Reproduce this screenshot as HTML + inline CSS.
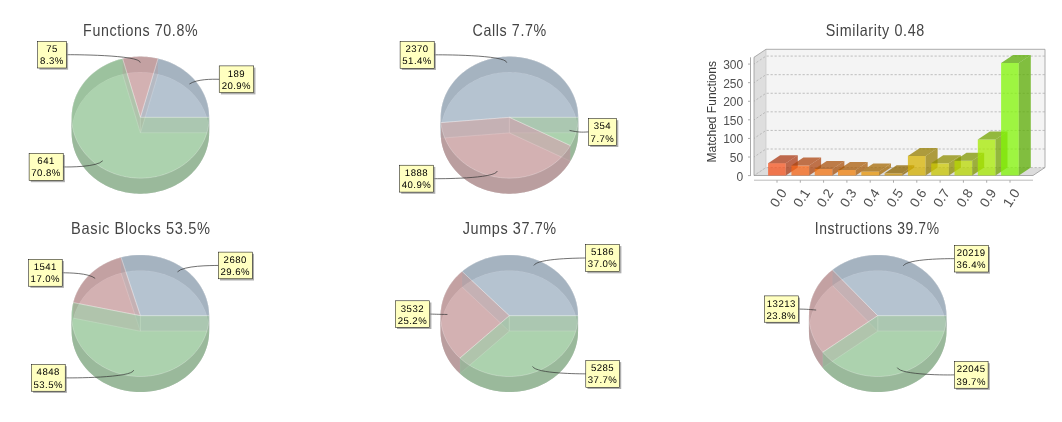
<!DOCTYPE html>
<html><head><meta charset="utf-8"><style>
html,body{margin:0;padding:0;background:#fff;width:1062px;height:422px;overflow:hidden}
svg{display:block;will-change:transform}
.tt{font-family:"Liberation Sans",sans-serif;font-size:16.5px;fill:#444;letter-spacing:0.7px}
.lb{font-family:"Liberation Sans",sans-serif;font-size:9.6px;fill:#000;letter-spacing:0.45px;text-rendering:geometricPrecision}
.ax{font-family:"Liberation Sans",sans-serif;font-size:12px;fill:#505050}
</style></head><body>
<svg width="1062" height="422" viewBox="0 0 1062 422">
<path d="M140.4 132.85 L209.15 132.85 L209.11 130.75 L208.99 128.65 L208.78 126.56 L208.5 124.48 L208.13 122.4 L207.68 120.34 L207.15 118.3 L206.54 116.27 L205.86 114.26 L205.09 112.27 L204.25 110.31 L203.33 108.37 L202.34 106.46 L201.27 104.59 L200.13 102.75 L198.92 100.94 L197.64 99.17 L196.29 97.45 L194.88 95.76 L193.4 94.12 L191.85 92.52 L190.25 90.98 L188.58 89.48 L186.86 88.04 L185.08 86.64 L183.25 85.31 L181.37 84.03 L179.44 82.8 L177.46 81.64 L175.44 80.54 L173.38 79.5 L171.28 78.53 L169.14 77.62 L166.97 76.77 L164.76 75.99 L162.53 75.29 L160.27 74.64 L157.98 74.07 Z" fill="rgb(158,175,193)" fill-opacity="0.5" stroke="#fff" stroke-opacity="0.4" stroke-width="0.6"/>
<path d="M140.4 132.85 L140.4 117.35 L209.15 117.35 L209.15 132.85 Z" fill="rgb(192,192,192)" fill-opacity="0.5" stroke="#fff" stroke-opacity="0.4" stroke-width="0.6"/>
<path d="M140.4 132.85 L157.98 74.07 L155.67 73.57 L153.33 73.13 L150.98 72.77 L148.61 72.49 L146.24 72.27 L143.86 72.13 L141.47 72.06 L139.09 72.06 L136.7 72.14 L134.32 72.29 L131.95 72.51 L129.59 72.81 L127.24 73.17 L124.9 73.61 L122.59 74.13 Z" fill="rgb(198,151,153)" fill-opacity="0.5" stroke="#fff" stroke-opacity="0.4" stroke-width="0.6"/>
<path d="M140.4 132.85 L140.4 117.35 L157.98 58.57 L157.98 74.07 Z" fill="rgb(192,192,192)" fill-opacity="0.5" stroke="#fff" stroke-opacity="0.4" stroke-width="0.6"/>
<path d="M140.4 132.85 L122.59 74.13 L120.29 74.71 L118.02 75.36 L115.77 76.09 L113.55 76.88 L111.37 77.74 L109.22 78.66 L107.11 79.65 L105.04 80.71 L103.01 81.83 L101.03 83.01 L99.09 84.25 L97.21 85.55 L95.37 86.9 L93.6 88.32 L91.87 89.78 L90.21 91.3 L88.61 92.87 L87.07 94.48 L85.59 96.15 L84.18 97.85 L82.84 99.6 L81.57 101.39 L80.37 103.22 L79.24 105.08 L78.18 106.98 L77.2 108.91 L76.3 110.87 L75.48 112.85 L74.73 114.86 L74.06 116.89 L73.47 118.94 L72.97 121 L72.54 123.08 L72.2 125.17 L71.94 127.27 L71.76 129.38 L71.67 131.49 L71.66 133.61 L71.73 135.72 L71.88 137.83 L72.12 139.93 L72.44 142.03 L72.84 144.11 L73.32 146.18 L73.89 148.24 L74.53 150.27 L75.26 152.29 L76.06 154.28 L76.94 156.24 L77.9 158.18 L78.93 160.08 L80.04 161.96 L81.22 163.8 L82.47 165.6 L83.8 167.36 L85.19 169.08 L86.64 170.75 L88.17 172.38 L89.75 173.96 L91.4 175.5 L93.1 176.98 L94.87 178.4 L96.68 179.78 L98.56 181.09 L100.48 182.35 L102.45 183.55 L104.46 184.68 L106.52 185.76 L108.62 186.76 L110.76 187.71 L112.93 188.59 L115.14 189.4 L117.38 190.14 L119.65 190.81 L121.94 191.42 L124.25 191.95 L126.58 192.41 L128.93 192.8 L131.29 193.11 L133.67 193.36 L136.05 193.53 L138.44 193.63 L140.83 193.65 L143.22 193.6 L145.6 193.48 L147.98 193.28 L150.35 193.01 L152.71 192.67 L155.06 192.25 L157.38 191.77 L159.69 191.21 L161.97 190.58 L164.23 189.88 L166.45 189.11 L168.65 188.28 L170.81 187.38 L172.94 186.41 L175.02 185.38 L177.07 184.28 L179.07 183.12 L181.02 181.9 L182.92 180.63 L184.77 179.29 L186.57 177.9 L188.32 176.45 L190 174.95 L191.62 173.4 L193.19 171.8 L194.69 170.16 L196.12 168.46 L197.49 166.73 L198.78 164.95 L200.01 163.14 L201.17 161.29 L202.25 159.4 L203.25 157.49 L204.18 155.54 L205.04 153.57 L205.81 151.57 L206.51 149.54 L207.12 147.5 L207.66 145.44 L208.11 143.37 L208.49 141.28 L208.78 139.18 L208.98 137.07 L209.11 134.96 L209.15 132.85 Z" fill="rgb(146,195,147)" fill-opacity="0.5" stroke="#fff" stroke-opacity="0.4" stroke-width="0.6"/>
<path d="M140.4 132.85 L140.4 117.35 L122.59 58.63 L122.59 74.13 Z" fill="rgb(192,192,192)" fill-opacity="0.5" stroke="#fff" stroke-opacity="0.4" stroke-width="0.6"/>
<path d="M209.15 117.35 L209.11 115.25 L208.99 113.16 L208.78 111.06 L208.5 108.98 L208.13 106.91 L207.68 104.85 L207.15 102.8 L206.54 100.77 L205.86 98.76 L205.09 96.77 L204.25 94.81 L203.33 92.88 L202.34 90.97 L201.28 89.09 L200.14 87.25 L198.93 85.45 L197.65 83.68 L196.3 81.95 L194.88 80.27 L193.4 78.63 L191.86 77.03 L190.26 75.49 L188.59 73.99 L186.87 72.54 L185.09 71.15 L183.26 69.81 L181.38 68.53 L179.45 67.31 L177.48 66.15 L175.46 65.05 L173.4 64.01 L171.29 63.03 L169.16 62.12 L166.98 61.28 L164.78 60.5 L162.55 59.79 L160.29 59.15 L158 58.58 L155.7 58.07 L153.38 57.64 L151.04 57.28 L148.69 56.99 L146.33 56.78 L143.96 56.63 L141.59 56.56 L139.21 56.56 L136.84 56.63 L134.47 56.78 L132.11 56.99 L129.76 57.28 L127.42 57.64 L125.1 58.07 L122.8 58.58 L120.51 59.15 L118.25 59.79 L116.02 60.5 L113.82 61.28 L111.64 62.12 L109.51 63.03 L107.4 64.01 L105.34 65.05 L103.32 66.15 L101.35 67.31 L99.42 68.53 L97.54 69.81 L95.71 71.15 L93.93 72.54 L92.21 73.99 L90.54 75.49 L88.94 77.03 L87.4 78.63 L85.92 80.27 L84.5 81.95 L83.15 83.68 L81.87 85.45 L80.66 87.25 L79.52 89.09 L78.46 90.97 L77.47 92.88 L76.55 94.81 L75.71 96.77 L74.94 98.76 L74.26 100.77 L73.65 102.8 L73.12 104.85 L72.67 106.91 L72.3 108.98 L72.02 111.06 L71.81 113.16 L71.69 115.25 L71.65 117.35 L71.65 132.85 L71.69 130.75 L71.81 128.66 L72.02 126.56 L72.3 124.48 L72.67 122.41 L73.12 120.35 L73.65 118.3 L74.26 116.27 L74.94 114.26 L75.71 112.27 L76.55 110.31 L77.47 108.38 L78.46 106.47 L79.52 104.59 L80.66 102.75 L81.87 100.95 L83.15 99.18 L84.5 97.45 L85.92 95.77 L87.4 94.13 L88.94 92.53 L90.54 90.99 L92.21 89.49 L93.93 88.04 L95.71 86.65 L97.54 85.31 L99.42 84.03 L101.35 82.81 L103.32 81.65 L105.34 80.55 L107.4 79.51 L109.51 78.53 L111.64 77.62 L113.82 76.78 L116.02 76 L118.25 75.29 L120.51 74.65 L122.8 74.08 L125.1 73.57 L127.42 73.14 L129.76 72.78 L132.11 72.49 L134.47 72.28 L136.84 72.13 L139.21 72.06 L141.59 72.06 L143.96 72.13 L146.33 72.28 L148.69 72.49 L151.04 72.78 L153.38 73.14 L155.7 73.57 L158 74.08 L160.29 74.65 L162.55 75.29 L164.78 76 L166.98 76.78 L169.16 77.62 L171.29 78.53 L173.4 79.51 L175.46 80.55 L177.48 81.65 L179.45 82.81 L181.38 84.03 L183.26 85.31 L185.09 86.65 L186.87 88.04 L188.59 89.49 L190.26 90.99 L191.86 92.53 L193.4 94.13 L194.88 95.77 L196.3 97.45 L197.65 99.18 L198.93 100.95 L200.14 102.75 L201.28 104.59 L202.34 106.47 L203.33 108.38 L204.25 110.31 L205.09 112.27 L205.86 114.26 L206.54 116.27 L207.15 118.3 L207.68 120.35 L208.13 122.41 L208.5 124.48 L208.78 126.56 L208.99 128.66 L209.11 130.75 L209.15 132.85 Z" fill="rgb(128,128,128)" fill-opacity="0.5"/>
<path d="M71.65 117.35 L71.69 119.45 L71.81 121.54 L72.02 123.64 L72.3 125.72 L72.67 127.79 L73.12 129.85 L73.65 131.9 L74.26 133.93 L74.94 135.94 L75.71 137.93 L76.55 139.89 L77.47 141.82 L78.46 143.73 L79.52 145.61 L80.66 147.45 L81.87 149.25 L83.15 151.02 L84.5 152.75 L85.92 154.43 L87.4 156.07 L88.94 157.67 L90.54 159.21 L92.21 160.71 L93.93 162.16 L95.71 163.55 L97.54 164.89 L99.42 166.17 L101.35 167.39 L103.32 168.55 L105.34 169.65 L107.4 170.69 L109.51 171.67 L111.64 172.58 L113.82 173.42 L116.02 174.2 L118.25 174.91 L120.51 175.55 L122.8 176.12 L125.1 176.63 L127.42 177.06 L129.76 177.42 L132.11 177.71 L134.47 177.92 L136.84 178.07 L139.21 178.14 L141.59 178.14 L143.96 178.07 L146.33 177.92 L148.69 177.71 L151.04 177.42 L153.38 177.06 L155.7 176.63 L158 176.12 L160.29 175.55 L162.55 174.91 L164.78 174.2 L166.98 173.42 L169.16 172.58 L171.29 171.67 L173.4 170.69 L175.46 169.65 L177.48 168.55 L179.45 167.39 L181.38 166.17 L183.26 164.89 L185.09 163.55 L186.87 162.16 L188.59 160.71 L190.26 159.21 L191.86 157.67 L193.4 156.07 L194.88 154.43 L196.3 152.75 L197.65 151.02 L198.93 149.25 L200.14 147.45 L201.28 145.61 L202.34 143.73 L203.33 141.82 L204.25 139.89 L205.09 137.93 L205.86 135.94 L206.54 133.93 L207.15 131.9 L207.68 129.85 L208.13 127.79 L208.5 125.72 L208.78 123.64 L208.99 121.54 L209.11 119.45 L209.15 117.35 L209.15 132.85 L209.11 134.95 L208.99 137.04 L208.78 139.14 L208.5 141.22 L208.13 143.29 L207.68 145.35 L207.15 147.4 L206.54 149.43 L205.86 151.44 L205.09 153.43 L204.25 155.39 L203.33 157.32 L202.34 159.23 L201.28 161.11 L200.14 162.95 L198.93 164.75 L197.65 166.52 L196.3 168.25 L194.88 169.93 L193.4 171.57 L191.86 173.17 L190.26 174.71 L188.59 176.21 L186.87 177.66 L185.09 179.05 L183.26 180.39 L181.38 181.67 L179.45 182.89 L177.48 184.05 L175.46 185.15 L173.4 186.19 L171.29 187.17 L169.16 188.08 L166.98 188.92 L164.78 189.7 L162.55 190.41 L160.29 191.05 L158 191.62 L155.7 192.13 L153.38 192.56 L151.04 192.92 L148.69 193.21 L146.33 193.42 L143.96 193.57 L141.59 193.64 L139.21 193.64 L136.84 193.57 L134.47 193.42 L132.11 193.21 L129.76 192.92 L127.42 192.56 L125.1 192.13 L122.8 191.62 L120.51 191.05 L118.25 190.41 L116.02 189.7 L113.82 188.92 L111.64 188.08 L109.51 187.17 L107.4 186.19 L105.34 185.15 L103.32 184.05 L101.35 182.89 L99.42 181.67 L97.54 180.39 L95.71 179.05 L93.93 177.66 L92.21 176.21 L90.54 174.71 L88.94 173.17 L87.4 171.57 L85.92 169.93 L84.5 168.25 L83.15 166.52 L81.87 164.75 L80.66 162.95 L79.52 161.11 L78.46 159.23 L77.47 157.32 L76.55 155.39 L75.71 153.43 L74.94 151.44 L74.26 149.43 L73.65 147.4 L73.12 145.35 L72.67 143.29 L72.3 141.22 L72.02 139.14 L71.81 137.04 L71.69 134.95 L71.65 132.85 Z" fill="rgb(128,128,128)" fill-opacity="0.5"/>
<path d="M209.15 117.35 L209.11 115.25 L208.99 113.15 L208.78 111.06 L208.5 108.98 L208.13 106.9 L207.68 104.84 L207.15 102.8 L206.54 100.77 L205.86 98.76 L205.09 96.77 L204.25 94.81 L203.33 92.87 L202.34 90.96 L201.27 89.09 L200.13 87.25 L198.92 85.44 L197.64 83.67 L196.29 81.95 L194.88 80.26 L193.4 78.62 L191.85 77.02 L190.25 75.48 L188.58 73.98 L186.86 72.54 L185.08 71.14 L183.25 69.81 L181.37 68.53 L179.44 67.3 L177.46 66.14 L175.44 65.04 L173.38 64 L171.28 63.03 L169.14 62.12 L166.97 61.27 L164.76 60.49 L162.53 59.79 L160.27 59.14 L157.98 58.57 L157.98 74.07 L160.27 74.64 L162.53 75.29 L164.76 75.99 L166.97 76.77 L169.14 77.62 L171.28 78.53 L173.38 79.5 L175.44 80.54 L177.46 81.64 L179.44 82.8 L181.37 84.03 L183.25 85.31 L185.08 86.64 L186.86 88.04 L188.58 89.48 L190.25 90.98 L191.85 92.52 L193.4 94.12 L194.88 95.76 L196.29 97.45 L197.64 99.17 L198.92 100.94 L200.13 102.75 L201.27 104.59 L202.34 106.46 L203.33 108.37 L204.25 110.31 L205.09 112.27 L205.86 114.26 L206.54 116.27 L207.15 118.3 L207.68 120.34 L208.13 122.4 L208.5 124.48 L208.78 126.56 L208.99 128.65 L209.11 130.75 L209.15 132.85 Z" fill="rgb(158,175,193)" fill-opacity="0.5"/>
<path d="M157.98 58.57 L155.67 58.07 L153.33 57.63 L150.98 57.27 L148.61 56.99 L146.24 56.77 L143.86 56.63 L141.47 56.56 L139.09 56.56 L136.7 56.64 L134.32 56.79 L131.95 57.01 L129.59 57.31 L127.24 57.67 L124.9 58.11 L122.59 58.63 L122.59 74.13 L124.9 73.61 L127.24 73.17 L129.59 72.81 L131.95 72.51 L134.32 72.29 L136.7 72.14 L139.09 72.06 L141.47 72.06 L143.86 72.13 L146.24 72.27 L148.61 72.49 L150.98 72.77 L153.33 73.13 L155.67 73.57 L157.98 74.07 Z" fill="rgb(198,151,153)" fill-opacity="0.5"/>
<path d="M122.59 58.63 L120.31 59.2 L118.06 59.85 L115.83 60.56 L113.64 61.35 L111.47 62.19 L109.34 63.11 L107.25 64.09 L105.19 65.13 L103.18 66.23 L101.21 67.39 L99.29 68.62 L97.42 69.9 L95.6 71.23 L93.83 72.63 L92.11 74.07 L90.46 75.57 L88.86 77.11 L87.32 78.71 L85.85 80.34 L84.44 82.03 L83.1 83.75 L81.83 85.52 L80.62 87.32 L79.49 89.16 L78.43 91.03 L77.44 92.93 L76.52 94.86 L75.69 96.82 L74.93 98.8 L74.24 100.81 L73.64 102.83 L73.11 104.88 L72.67 106.93 L72.3 109 L72.02 111.08 L71.81 113.17 L71.69 115.26 L71.65 117.35 L71.65 132.85 L71.69 130.76 L71.81 128.67 L72.02 126.58 L72.3 124.5 L72.67 122.43 L73.11 120.38 L73.64 118.33 L74.24 116.31 L74.93 114.3 L75.69 112.32 L76.52 110.36 L77.44 108.43 L78.43 106.53 L79.49 104.66 L80.62 102.82 L81.83 101.02 L83.1 99.25 L84.44 97.53 L85.85 95.84 L87.32 94.21 L88.86 92.61 L90.46 91.07 L92.11 89.57 L93.83 88.13 L95.6 86.73 L97.42 85.4 L99.29 84.12 L101.21 82.89 L103.18 81.73 L105.19 80.63 L107.25 79.59 L109.34 78.61 L111.47 77.69 L113.64 76.85 L115.83 76.06 L118.06 75.35 L120.31 74.7 L122.59 74.13 Z" fill="rgb(146,195,147)" fill-opacity="0.5"/>
<path d="M71.65 117.35 L71.69 119.45 L71.81 121.54 L72.02 123.64 L72.3 125.72 L72.67 127.79 L73.12 129.85 L73.65 131.9 L74.26 133.93 L74.94 135.94 L75.71 137.93 L76.55 139.89 L77.47 141.82 L78.46 143.73 L79.52 145.61 L80.66 147.45 L81.87 149.25 L83.15 151.02 L84.5 152.75 L85.92 154.43 L87.4 156.07 L88.94 157.67 L90.54 159.21 L92.21 160.71 L93.93 162.16 L95.71 163.55 L97.54 164.89 L99.42 166.17 L101.35 167.39 L103.32 168.55 L105.34 169.65 L107.4 170.69 L109.51 171.67 L111.64 172.58 L113.82 173.42 L116.02 174.2 L118.25 174.91 L120.51 175.55 L122.8 176.12 L125.1 176.63 L127.42 177.06 L129.76 177.42 L132.11 177.71 L134.47 177.92 L136.84 178.07 L139.21 178.14 L141.59 178.14 L143.96 178.07 L146.33 177.92 L148.69 177.71 L151.04 177.42 L153.38 177.06 L155.7 176.63 L158 176.12 L160.29 175.55 L162.55 174.91 L164.78 174.2 L166.98 173.42 L169.16 172.58 L171.29 171.67 L173.4 170.69 L175.46 169.65 L177.48 168.55 L179.45 167.39 L181.38 166.17 L183.26 164.89 L185.09 163.55 L186.87 162.16 L188.59 160.71 L190.26 159.21 L191.86 157.67 L193.4 156.07 L194.88 154.43 L196.3 152.75 L197.65 151.02 L198.93 149.25 L200.14 147.45 L201.28 145.61 L202.34 143.73 L203.33 141.82 L204.25 139.89 L205.09 137.93 L205.86 135.94 L206.54 133.93 L207.15 131.9 L207.68 129.85 L208.13 127.79 L208.5 125.72 L208.78 123.64 L208.99 121.54 L209.11 119.45 L209.15 117.35 L209.15 132.85 L209.11 134.95 L208.99 137.04 L208.78 139.14 L208.5 141.22 L208.13 143.29 L207.68 145.35 L207.15 147.4 L206.54 149.43 L205.86 151.44 L205.09 153.43 L204.25 155.39 L203.33 157.32 L202.34 159.23 L201.28 161.11 L200.14 162.95 L198.93 164.75 L197.65 166.52 L196.3 168.25 L194.88 169.93 L193.4 171.57 L191.86 173.17 L190.26 174.71 L188.59 176.21 L186.87 177.66 L185.09 179.05 L183.26 180.39 L181.38 181.67 L179.45 182.89 L177.48 184.05 L175.46 185.15 L173.4 186.19 L171.29 187.17 L169.16 188.08 L166.98 188.92 L164.78 189.7 L162.55 190.41 L160.29 191.05 L158 191.62 L155.7 192.13 L153.38 192.56 L151.04 192.92 L148.69 193.21 L146.33 193.42 L143.96 193.57 L141.59 193.64 L139.21 193.64 L136.84 193.57 L134.47 193.42 L132.11 193.21 L129.76 192.92 L127.42 192.56 L125.1 192.13 L122.8 191.62 L120.51 191.05 L118.25 190.41 L116.02 189.7 L113.82 188.92 L111.64 188.08 L109.51 187.17 L107.4 186.19 L105.34 185.15 L103.32 184.05 L101.35 182.89 L99.42 181.67 L97.54 180.39 L95.71 179.05 L93.93 177.66 L92.21 176.21 L90.54 174.71 L88.94 173.17 L87.4 171.57 L85.92 169.93 L84.5 168.25 L83.15 166.52 L81.87 164.75 L80.66 162.95 L79.52 161.11 L78.46 159.23 L77.47 157.32 L76.55 155.39 L75.71 153.43 L74.94 151.44 L74.26 149.43 L73.65 147.4 L73.12 145.35 L72.67 143.29 L72.3 141.22 L72.02 139.14 L71.81 137.04 L71.69 134.95 L71.65 132.85 Z" fill="rgb(146,195,147)" fill-opacity="0.5"/>
<path d="M140.4 117.35 L209.15 117.35 L209.11 115.25 L208.99 113.15 L208.78 111.06 L208.5 108.98 L208.13 106.9 L207.68 104.84 L207.15 102.8 L206.54 100.77 L205.86 98.76 L205.09 96.77 L204.25 94.81 L203.33 92.87 L202.34 90.96 L201.27 89.09 L200.13 87.25 L198.92 85.44 L197.64 83.67 L196.29 81.95 L194.88 80.26 L193.4 78.62 L191.85 77.02 L190.25 75.48 L188.58 73.98 L186.86 72.54 L185.08 71.14 L183.25 69.81 L181.37 68.53 L179.44 67.3 L177.46 66.14 L175.44 65.04 L173.38 64 L171.28 63.03 L169.14 62.12 L166.97 61.27 L164.76 60.49 L162.53 59.79 L160.27 59.14 L157.98 58.57 Z" fill="rgb(158,175,193)" fill-opacity="0.5" stroke="#fff" stroke-opacity="0.4" stroke-width="0.6"/>
<path d="M140.4 117.35 L157.98 58.57 L155.67 58.07 L153.33 57.63 L150.98 57.27 L148.61 56.99 L146.24 56.77 L143.86 56.63 L141.47 56.56 L139.09 56.56 L136.7 56.64 L134.32 56.79 L131.95 57.01 L129.59 57.31 L127.24 57.67 L124.9 58.11 L122.59 58.63 Z" fill="rgb(198,151,153)" fill-opacity="0.5" stroke="#fff" stroke-opacity="0.4" stroke-width="0.6"/>
<path d="M140.4 117.35 L122.59 58.63 L120.29 59.21 L118.02 59.86 L115.77 60.59 L113.55 61.38 L111.37 62.24 L109.22 63.16 L107.11 64.15 L105.04 65.21 L103.01 66.33 L101.03 67.51 L99.09 68.75 L97.21 70.05 L95.37 71.4 L93.6 72.82 L91.87 74.28 L90.21 75.8 L88.61 77.37 L87.07 78.98 L85.59 80.65 L84.18 82.35 L82.84 84.1 L81.57 85.89 L80.37 87.72 L79.24 89.58 L78.18 91.48 L77.2 93.41 L76.3 95.37 L75.48 97.35 L74.73 99.36 L74.06 101.39 L73.47 103.44 L72.97 105.5 L72.54 107.58 L72.2 109.67 L71.94 111.77 L71.76 113.88 L71.67 115.99 L71.66 118.11 L71.73 120.22 L71.88 122.33 L72.12 124.43 L72.44 126.53 L72.84 128.61 L73.32 130.68 L73.89 132.74 L74.53 134.77 L75.26 136.79 L76.06 138.78 L76.94 140.74 L77.9 142.68 L78.93 144.58 L80.04 146.46 L81.22 148.3 L82.47 150.1 L83.8 151.86 L85.19 153.58 L86.64 155.25 L88.17 156.88 L89.75 158.46 L91.4 160 L93.1 161.48 L94.87 162.9 L96.68 164.28 L98.56 165.59 L100.48 166.85 L102.45 168.05 L104.46 169.18 L106.52 170.26 L108.62 171.26 L110.76 172.21 L112.93 173.09 L115.14 173.9 L117.38 174.64 L119.65 175.31 L121.94 175.92 L124.25 176.45 L126.58 176.91 L128.93 177.3 L131.29 177.61 L133.67 177.86 L136.05 178.03 L138.44 178.13 L140.83 178.15 L143.22 178.1 L145.6 177.98 L147.98 177.78 L150.35 177.51 L152.71 177.17 L155.06 176.75 L157.38 176.27 L159.69 175.71 L161.97 175.08 L164.23 174.38 L166.45 173.61 L168.65 172.78 L170.81 171.88 L172.94 170.91 L175.02 169.88 L177.07 168.78 L179.07 167.62 L181.02 166.4 L182.92 165.13 L184.77 163.79 L186.57 162.4 L188.32 160.95 L190 159.45 L191.62 157.9 L193.19 156.3 L194.69 154.66 L196.12 152.96 L197.49 151.23 L198.78 149.45 L200.01 147.64 L201.17 145.79 L202.25 143.9 L203.25 141.99 L204.18 140.04 L205.04 138.07 L205.81 136.07 L206.51 134.04 L207.12 132 L207.66 129.94 L208.11 127.87 L208.49 125.78 L208.78 123.68 L208.98 121.57 L209.11 119.46 L209.15 117.35 Z" fill="rgb(146,195,147)" fill-opacity="0.5" stroke="#fff" stroke-opacity="0.4" stroke-width="0.6"/>
<path d="M219.2 79.3 C211.65 79.1 196.86 79.1 189.43 83.97" fill="none" stroke="#333" stroke-width="0.7"/>
<rect x="220.9" y="67.6" width="34.55" height="26.8" fill="rgb(140,140,140)" fill-opacity="0.7"/>
<rect x="219.2" y="65.9" width="34.55" height="26.8" fill="rgb(255,255,192)" stroke="#000" stroke-width="0.5"/>
<text x="236.38" y="76.6" text-anchor="middle" class="lb">189</text>
<text x="236.38" y="88.9" text-anchor="middle" class="lb">20.9%</text>
<path d="M66.4 54.7 C69.15 54.65 140.28 54.65 140.29 62.63" fill="none" stroke="#333" stroke-width="0.7"/>
<rect x="39.4" y="43.1" width="28.7" height="26.6" fill="rgb(140,140,140)" fill-opacity="0.7"/>
<rect x="37.7" y="41.4" width="28.7" height="26.6" fill="rgb(255,255,192)" stroke="#000" stroke-width="0.5"/>
<text x="51.95" y="52.1" text-anchor="middle" class="lb">75</text>
<text x="51.95" y="64.4" text-anchor="middle" class="lb">8.3%</text>
<path d="M63.2 166.9 C69.15 167.1 97.03 167.1 102.74 160.77" fill="none" stroke="#333" stroke-width="0.7"/>
<rect x="30.8" y="155" width="34.1" height="27.2" fill="rgb(140,140,140)" fill-opacity="0.7"/>
<rect x="29.1" y="153.3" width="34.1" height="27.2" fill="rgb(255,255,192)" stroke="#000" stroke-width="0.5"/>
<text x="46.05" y="164" text-anchor="middle" class="lb">641</text>
<text x="46.05" y="176.3" text-anchor="middle" class="lb">70.8%</text>
<path d="M509.45 132.85 L578.2 132.85 L578.16 130.74 L578.03 128.63 L577.83 126.53 L577.54 124.43 L577.17 122.35 L576.71 120.28 L576.18 118.22 L575.57 116.18 L574.87 114.16 L574.1 112.16 L573.25 110.19 L572.32 108.25 L571.32 106.33 L570.24 104.45 L569.09 102.6 L567.86 100.79 L566.57 99.01 L565.21 97.28 L563.78 95.59 L562.28 93.94 L560.72 92.35 L559.1 90.8 L557.42 89.3 L555.68 87.85 L553.89 86.46 L552.04 85.12 L550.14 83.84 L548.19 82.62 L546.2 81.47 L544.16 80.37 L542.08 79.33 L539.96 78.37 L537.8 77.46 L535.61 76.62 L533.39 75.86 L531.14 75.15 L528.86 74.52 L526.56 73.96 L524.24 73.47 L521.9 73.05 L519.54 72.71 L517.18 72.44 L514.8 72.23 L512.42 72.11 L510.03 72.05 L507.65 72.07 L505.26 72.16 L502.88 72.33 L500.51 72.57 L498.15 72.88 L495.8 73.26 L493.47 73.71 L491.16 74.24 L488.87 74.84 L486.61 75.5 L484.37 76.24 L482.16 77.04 L479.99 77.92 L477.85 78.85 L475.75 79.86 L473.69 80.92 L471.67 82.05 L469.7 83.24 L467.78 84.49 L465.91 85.8 L464.09 87.16 L462.32 88.58 L460.61 90.06 L458.96 91.58 L457.37 93.16 L455.85 94.78 L454.38 96.45 L452.99 98.16 L451.66 99.91 L450.4 101.71 L449.22 103.54 L448.1 105.41 L447.06 107.31 L446.1 109.24 L445.21 111.2 L444.4 113.18 L443.66 115.19 L443.01 117.22 L442.44 119.27 L441.94 121.33 L441.53 123.41 L441.2 125.5 L440.96 127.6 L440.79 129.71 L440.71 131.82 L440.71 133.93 L440.79 136.04 L440.96 138.14 Z" fill="rgb(158,175,193)" fill-opacity="0.5" stroke="#fff" stroke-opacity="0.4" stroke-width="0.6"/>
<path d="M509.45 132.85 L509.45 117.35 L578.2 117.35 L578.2 132.85 Z" fill="rgb(192,192,192)" fill-opacity="0.5" stroke="#fff" stroke-opacity="0.4" stroke-width="0.6"/>
<path d="M509.45 132.85 L440.96 138.14 L441.21 140.25 L441.54 142.34 L441.96 144.42 L442.45 146.49 L443.03 148.54 L443.68 150.57 L444.42 152.58 L445.24 154.57 L446.13 156.53 L447.1 158.46 L448.14 160.36 L449.26 162.23 L450.45 164.06 L451.71 165.85 L453.04 167.61 L454.44 169.32 L455.91 170.99 L457.44 172.61 L459.03 174.19 L460.69 175.71 L462.4 177.18 L464.17 178.6 L466 179.97 L467.88 181.27 L469.8 182.52 L471.78 183.71 L473.8 184.84 L475.87 185.9 L477.97 186.9 L480.11 187.84 L482.29 188.71 L484.5 189.51 L486.74 190.24 L489.01 190.9 L491.31 191.49 L493.62 192.02 L495.96 192.47 L498.31 192.85 L500.67 193.15 L503.05 193.39 L505.43 193.55 L507.82 193.63 L510.21 193.65 L512.6 193.59 L514.98 193.45 L517.36 193.25 L519.73 192.97 L522.08 192.61 L524.42 192.19 L526.75 191.69 L529.05 191.13 L531.33 190.49 L533.58 189.78 L535.8 189.01 L537.99 188.16 L540.15 187.25 L542.27 186.28 L544.35 185.24 L546.38 184.13 L548.38 182.96 L550.32 181.74 L552.22 180.45 L554.06 179.11 L555.85 177.71 L557.59 176.26 L559.27 174.75 L560.88 173.2 L562.44 171.59 L563.93 169.94 L565.35 168.24 L566.71 166.5 L568 164.72 L569.21 162.9 L570.36 161.05 Z" fill="rgb(198,151,153)" fill-opacity="0.5" stroke="#fff" stroke-opacity="0.4" stroke-width="0.6"/>
<path d="M509.45 132.85 L509.45 117.35 L440.96 122.64 L440.96 138.14 Z" fill="rgb(192,192,192)" fill-opacity="0.5" stroke="#fff" stroke-opacity="0.4" stroke-width="0.6"/>
<path d="M509.45 132.85 L570.36 161.05 L571.42 159.18 L572.41 157.27 L573.32 155.34 L574.16 153.38 L574.92 151.4 L575.61 149.39 L576.21 147.37 L576.74 145.33 L577.18 143.27 L577.55 141.2 L577.83 139.12 L578.04 137.04 L578.16 134.94 L578.2 132.85 Z" fill="rgb(146,195,147)" fill-opacity="0.5" stroke="#fff" stroke-opacity="0.4" stroke-width="0.6"/>
<path d="M509.45 132.85 L509.45 117.35 L570.36 145.55 L570.36 161.05 Z" fill="rgb(192,192,192)" fill-opacity="0.5" stroke="#fff" stroke-opacity="0.4" stroke-width="0.6"/>
<path d="M578.2 117.35 L578.16 115.25 L578.04 113.16 L577.83 111.06 L577.55 108.98 L577.18 106.91 L576.73 104.85 L576.2 102.8 L575.59 100.77 L574.91 98.76 L574.14 96.77 L573.3 94.81 L572.38 92.88 L571.39 90.97 L570.33 89.09 L569.19 87.25 L567.98 85.45 L566.7 83.68 L565.35 81.95 L563.93 80.27 L562.45 78.63 L560.91 77.03 L559.31 75.49 L557.64 73.99 L555.92 72.54 L554.14 71.15 L552.31 69.81 L550.43 68.53 L548.5 67.31 L546.53 66.15 L544.51 65.05 L542.45 64.01 L540.34 63.03 L538.21 62.12 L536.03 61.28 L533.83 60.5 L531.6 59.79 L529.34 59.15 L527.05 58.58 L524.75 58.07 L522.43 57.64 L520.09 57.28 L517.74 56.99 L515.38 56.78 L513.01 56.63 L510.64 56.56 L508.26 56.56 L505.89 56.63 L503.52 56.78 L501.16 56.99 L498.81 57.28 L496.47 57.64 L494.15 58.07 L491.85 58.58 L489.56 59.15 L487.3 59.79 L485.07 60.5 L482.87 61.28 L480.69 62.12 L478.56 63.03 L476.45 64.01 L474.39 65.05 L472.37 66.15 L470.4 67.31 L468.47 68.53 L466.59 69.81 L464.76 71.15 L462.98 72.54 L461.26 73.99 L459.59 75.49 L457.99 77.03 L456.45 78.63 L454.97 80.27 L453.55 81.95 L452.2 83.68 L450.92 85.45 L449.71 87.25 L448.57 89.09 L447.51 90.97 L446.52 92.88 L445.6 94.81 L444.76 96.77 L443.99 98.76 L443.31 100.77 L442.7 102.8 L442.17 104.85 L441.72 106.91 L441.35 108.98 L441.07 111.06 L440.86 113.16 L440.74 115.25 L440.7 117.35 L440.7 132.85 L440.74 130.75 L440.86 128.66 L441.07 126.56 L441.35 124.48 L441.72 122.41 L442.17 120.35 L442.7 118.3 L443.31 116.27 L443.99 114.26 L444.76 112.27 L445.6 110.31 L446.52 108.38 L447.51 106.47 L448.57 104.59 L449.71 102.75 L450.92 100.95 L452.2 99.18 L453.55 97.45 L454.97 95.77 L456.45 94.13 L457.99 92.53 L459.59 90.99 L461.26 89.49 L462.98 88.04 L464.76 86.65 L466.59 85.31 L468.47 84.03 L470.4 82.81 L472.37 81.65 L474.39 80.55 L476.45 79.51 L478.56 78.53 L480.69 77.62 L482.87 76.78 L485.07 76 L487.3 75.29 L489.56 74.65 L491.85 74.08 L494.15 73.57 L496.47 73.14 L498.81 72.78 L501.16 72.49 L503.52 72.28 L505.89 72.13 L508.26 72.06 L510.64 72.06 L513.01 72.13 L515.38 72.28 L517.74 72.49 L520.09 72.78 L522.43 73.14 L524.75 73.57 L527.05 74.08 L529.34 74.65 L531.6 75.29 L533.83 76 L536.03 76.78 L538.21 77.62 L540.34 78.53 L542.45 79.51 L544.51 80.55 L546.53 81.65 L548.5 82.81 L550.43 84.03 L552.31 85.31 L554.14 86.65 L555.92 88.04 L557.64 89.49 L559.31 90.99 L560.91 92.53 L562.45 94.13 L563.93 95.77 L565.35 97.45 L566.7 99.18 L567.98 100.95 L569.19 102.75 L570.33 104.59 L571.39 106.47 L572.38 108.38 L573.3 110.31 L574.14 112.27 L574.91 114.26 L575.59 116.27 L576.2 118.3 L576.73 120.35 L577.18 122.41 L577.55 124.48 L577.83 126.56 L578.04 128.66 L578.16 130.75 L578.2 132.85 Z" fill="rgb(128,128,128)" fill-opacity="0.5"/>
<path d="M440.7 117.35 L440.74 119.45 L440.86 121.54 L441.07 123.64 L441.35 125.72 L441.72 127.79 L442.17 129.85 L442.7 131.9 L443.31 133.93 L443.99 135.94 L444.76 137.93 L445.6 139.89 L446.52 141.82 L447.51 143.73 L448.57 145.61 L449.71 147.45 L450.92 149.25 L452.2 151.02 L453.55 152.75 L454.97 154.43 L456.45 156.07 L457.99 157.67 L459.59 159.21 L461.26 160.71 L462.98 162.16 L464.76 163.55 L466.59 164.89 L468.47 166.17 L470.4 167.39 L472.37 168.55 L474.39 169.65 L476.45 170.69 L478.56 171.67 L480.69 172.58 L482.87 173.42 L485.07 174.2 L487.3 174.91 L489.56 175.55 L491.85 176.12 L494.15 176.63 L496.47 177.06 L498.81 177.42 L501.16 177.71 L503.52 177.92 L505.89 178.07 L508.26 178.14 L510.64 178.14 L513.01 178.07 L515.38 177.92 L517.74 177.71 L520.09 177.42 L522.43 177.06 L524.75 176.63 L527.05 176.12 L529.34 175.55 L531.6 174.91 L533.83 174.2 L536.03 173.42 L538.21 172.58 L540.34 171.67 L542.45 170.69 L544.51 169.65 L546.53 168.55 L548.5 167.39 L550.43 166.17 L552.31 164.89 L554.14 163.55 L555.92 162.16 L557.64 160.71 L559.31 159.21 L560.91 157.67 L562.45 156.07 L563.93 154.43 L565.35 152.75 L566.7 151.02 L567.98 149.25 L569.19 147.45 L570.33 145.61 L571.39 143.73 L572.38 141.82 L573.3 139.89 L574.14 137.93 L574.91 135.94 L575.59 133.93 L576.2 131.9 L576.73 129.85 L577.18 127.79 L577.55 125.72 L577.83 123.64 L578.04 121.54 L578.16 119.45 L578.2 117.35 L578.2 132.85 L578.16 134.95 L578.04 137.04 L577.83 139.14 L577.55 141.22 L577.18 143.29 L576.73 145.35 L576.2 147.4 L575.59 149.43 L574.91 151.44 L574.14 153.43 L573.3 155.39 L572.38 157.32 L571.39 159.23 L570.33 161.11 L569.19 162.95 L567.98 164.75 L566.7 166.52 L565.35 168.25 L563.93 169.93 L562.45 171.57 L560.91 173.17 L559.31 174.71 L557.64 176.21 L555.92 177.66 L554.14 179.05 L552.31 180.39 L550.43 181.67 L548.5 182.89 L546.53 184.05 L544.51 185.15 L542.45 186.19 L540.34 187.17 L538.21 188.08 L536.03 188.92 L533.83 189.7 L531.6 190.41 L529.34 191.05 L527.05 191.62 L524.75 192.13 L522.43 192.56 L520.09 192.92 L517.74 193.21 L515.38 193.42 L513.01 193.57 L510.64 193.64 L508.26 193.64 L505.89 193.57 L503.52 193.42 L501.16 193.21 L498.81 192.92 L496.47 192.56 L494.15 192.13 L491.85 191.62 L489.56 191.05 L487.3 190.41 L485.07 189.7 L482.87 188.92 L480.69 188.08 L478.56 187.17 L476.45 186.19 L474.39 185.15 L472.37 184.05 L470.4 182.89 L468.47 181.67 L466.59 180.39 L464.76 179.05 L462.98 177.66 L461.26 176.21 L459.59 174.71 L457.99 173.17 L456.45 171.57 L454.97 169.93 L453.55 168.25 L452.2 166.52 L450.92 164.75 L449.71 162.95 L448.57 161.11 L447.51 159.23 L446.52 157.32 L445.6 155.39 L444.76 153.43 L443.99 151.44 L443.31 149.43 L442.7 147.4 L442.17 145.35 L441.72 143.29 L441.35 141.22 L441.07 139.14 L440.86 137.04 L440.74 134.95 L440.7 132.85 Z" fill="rgb(128,128,128)" fill-opacity="0.5"/>
<path d="M578.2 117.35 L578.16 115.25 L578.04 113.16 L577.83 111.06 L577.55 108.98 L577.18 106.91 L576.73 104.85 L576.2 102.8 L575.59 100.77 L574.91 98.76 L574.14 96.77 L573.3 94.81 L572.38 92.88 L571.39 90.97 L570.33 89.09 L569.19 87.25 L567.98 85.45 L566.7 83.68 L565.35 81.95 L563.93 80.27 L562.45 78.63 L560.91 77.03 L559.31 75.49 L557.64 73.99 L555.92 72.54 L554.14 71.15 L552.31 69.81 L550.43 68.53 L548.5 67.31 L546.53 66.15 L544.51 65.05 L542.45 64.01 L540.34 63.03 L538.21 62.12 L536.03 61.28 L533.83 60.5 L531.6 59.79 L529.34 59.15 L527.05 58.58 L524.75 58.07 L522.43 57.64 L520.09 57.28 L517.74 56.99 L515.38 56.78 L513.01 56.63 L510.64 56.56 L508.26 56.56 L505.89 56.63 L503.52 56.78 L501.16 56.99 L498.81 57.28 L496.47 57.64 L494.15 58.07 L491.85 58.58 L489.56 59.15 L487.3 59.79 L485.07 60.5 L482.87 61.28 L480.69 62.12 L478.56 63.03 L476.45 64.01 L474.39 65.05 L472.37 66.15 L470.4 67.31 L468.47 68.53 L466.59 69.81 L464.76 71.15 L462.98 72.54 L461.26 73.99 L459.59 75.49 L457.99 77.03 L456.45 78.63 L454.97 80.27 L453.55 81.95 L452.2 83.68 L450.92 85.45 L449.71 87.25 L448.57 89.09 L447.51 90.97 L446.52 92.88 L445.6 94.81 L444.76 96.77 L443.99 98.76 L443.31 100.77 L442.7 102.8 L442.17 104.85 L441.72 106.91 L441.35 108.98 L441.07 111.06 L440.86 113.16 L440.74 115.25 L440.7 117.35 L440.7 132.85 L440.74 130.75 L440.86 128.66 L441.07 126.56 L441.35 124.48 L441.72 122.41 L442.17 120.35 L442.7 118.3 L443.31 116.27 L443.99 114.26 L444.76 112.27 L445.6 110.31 L446.52 108.38 L447.51 106.47 L448.57 104.59 L449.71 102.75 L450.92 100.95 L452.2 99.18 L453.55 97.45 L454.97 95.77 L456.45 94.13 L457.99 92.53 L459.59 90.99 L461.26 89.49 L462.98 88.04 L464.76 86.65 L466.59 85.31 L468.47 84.03 L470.4 82.81 L472.37 81.65 L474.39 80.55 L476.45 79.51 L478.56 78.53 L480.69 77.62 L482.87 76.78 L485.07 76 L487.3 75.29 L489.56 74.65 L491.85 74.08 L494.15 73.57 L496.47 73.14 L498.81 72.78 L501.16 72.49 L503.52 72.28 L505.89 72.13 L508.26 72.06 L510.64 72.06 L513.01 72.13 L515.38 72.28 L517.74 72.49 L520.09 72.78 L522.43 73.14 L524.75 73.57 L527.05 74.08 L529.34 74.65 L531.6 75.29 L533.83 76 L536.03 76.78 L538.21 77.62 L540.34 78.53 L542.45 79.51 L544.51 80.55 L546.53 81.65 L548.5 82.81 L550.43 84.03 L552.31 85.31 L554.14 86.65 L555.92 88.04 L557.64 89.49 L559.31 90.99 L560.91 92.53 L562.45 94.13 L563.93 95.77 L565.35 97.45 L566.7 99.18 L567.98 100.95 L569.19 102.75 L570.33 104.59 L571.39 106.47 L572.38 108.38 L573.3 110.31 L574.14 112.27 L574.91 114.26 L575.59 116.27 L576.2 118.3 L576.73 120.35 L577.18 122.41 L577.55 124.48 L577.83 126.56 L578.04 128.66 L578.16 130.75 L578.2 132.85 Z" fill="rgb(158,175,193)" fill-opacity="0.5"/>
<path d="M440.7 117.35 L440.73 119.12 L440.82 120.88 L440.96 122.64 L440.96 138.14 L440.82 136.38 L440.73 134.62 L440.7 132.85 Z" fill="rgb(158,175,193)" fill-opacity="0.5"/>
<path d="M440.96 122.64 L441.21 124.75 L441.54 126.84 L441.96 128.92 L442.45 130.99 L443.03 133.04 L443.68 135.07 L444.42 137.08 L445.24 139.07 L446.13 141.03 L447.1 142.96 L448.14 144.86 L449.26 146.73 L450.45 148.56 L451.71 150.35 L453.04 152.11 L454.44 153.82 L455.91 155.49 L457.44 157.11 L459.03 158.69 L460.69 160.21 L462.4 161.68 L464.17 163.1 L466 164.47 L467.88 165.77 L469.8 167.02 L471.78 168.21 L473.8 169.34 L475.87 170.4 L477.97 171.4 L480.11 172.34 L482.29 173.21 L484.5 174.01 L486.74 174.74 L489.01 175.4 L491.31 175.99 L493.62 176.52 L495.96 176.97 L498.31 177.35 L500.67 177.65 L503.05 177.89 L505.43 178.05 L507.82 178.13 L510.21 178.15 L512.6 178.09 L514.98 177.95 L517.36 177.75 L519.73 177.47 L522.08 177.11 L524.42 176.69 L526.75 176.19 L529.05 175.63 L531.33 174.99 L533.58 174.28 L535.8 173.51 L537.99 172.66 L540.15 171.75 L542.27 170.78 L544.35 169.74 L546.38 168.63 L548.38 167.46 L550.32 166.24 L552.22 164.95 L554.06 163.61 L555.85 162.21 L557.59 160.76 L559.27 159.25 L560.88 157.7 L562.44 156.09 L563.93 154.44 L565.35 152.74 L566.71 151 L568 149.22 L569.21 147.4 L570.36 145.55 L570.36 161.05 L569.21 162.9 L568 164.72 L566.71 166.5 L565.35 168.24 L563.93 169.94 L562.44 171.59 L560.88 173.2 L559.27 174.75 L557.59 176.26 L555.85 177.71 L554.06 179.11 L552.22 180.45 L550.32 181.74 L548.38 182.96 L546.38 184.13 L544.35 185.24 L542.27 186.28 L540.15 187.25 L537.99 188.16 L535.8 189.01 L533.58 189.78 L531.33 190.49 L529.05 191.13 L526.75 191.69 L524.42 192.19 L522.08 192.61 L519.73 192.97 L517.36 193.25 L514.98 193.45 L512.6 193.59 L510.21 193.65 L507.82 193.63 L505.43 193.55 L503.05 193.39 L500.67 193.15 L498.31 192.85 L495.96 192.47 L493.62 192.02 L491.31 191.49 L489.01 190.9 L486.74 190.24 L484.5 189.51 L482.29 188.71 L480.11 187.84 L477.97 186.9 L475.87 185.9 L473.8 184.84 L471.78 183.71 L469.8 182.52 L467.88 181.27 L466 179.97 L464.17 178.6 L462.4 177.18 L460.69 175.71 L459.03 174.19 L457.44 172.61 L455.91 170.99 L454.44 169.32 L453.04 167.61 L451.71 165.85 L450.45 164.06 L449.26 162.23 L448.14 160.36 L447.1 158.46 L446.13 156.53 L445.24 154.57 L444.42 152.58 L443.68 150.57 L443.03 148.54 L442.45 146.49 L441.96 144.42 L441.54 142.34 L441.21 140.25 L440.96 138.14 Z" fill="rgb(198,151,153)" fill-opacity="0.5"/>
<path d="M570.36 145.55 L571.42 143.68 L572.41 141.77 L573.32 139.84 L574.16 137.88 L574.92 135.9 L575.61 133.89 L576.21 131.87 L576.74 129.83 L577.18 127.77 L577.55 125.7 L577.83 123.62 L578.04 121.54 L578.16 119.44 L578.2 117.35 L578.2 132.85 L578.16 134.94 L578.04 137.04 L577.83 139.12 L577.55 141.2 L577.18 143.27 L576.74 145.33 L576.21 147.37 L575.61 149.39 L574.92 151.4 L574.16 153.38 L573.32 155.34 L572.41 157.27 L571.42 159.18 L570.36 161.05 Z" fill="rgb(146,195,147)" fill-opacity="0.5"/>
<path d="M509.45 117.35 L578.2 117.35 L578.16 115.24 L578.03 113.13 L577.83 111.03 L577.54 108.93 L577.17 106.85 L576.71 104.78 L576.18 102.72 L575.57 100.68 L574.87 98.66 L574.1 96.66 L573.25 94.69 L572.32 92.75 L571.32 90.83 L570.24 88.95 L569.09 87.1 L567.86 85.29 L566.57 83.51 L565.21 81.78 L563.78 80.09 L562.28 78.44 L560.72 76.85 L559.1 75.3 L557.42 73.8 L555.68 72.35 L553.89 70.96 L552.04 69.62 L550.14 68.34 L548.19 67.12 L546.2 65.97 L544.16 64.87 L542.08 63.83 L539.96 62.87 L537.8 61.96 L535.61 61.12 L533.39 60.36 L531.14 59.65 L528.86 59.02 L526.56 58.46 L524.24 57.97 L521.9 57.55 L519.54 57.21 L517.18 56.94 L514.8 56.73 L512.42 56.61 L510.03 56.55 L507.65 56.57 L505.26 56.66 L502.88 56.83 L500.51 57.07 L498.15 57.38 L495.8 57.76 L493.47 58.21 L491.16 58.74 L488.87 59.34 L486.61 60 L484.37 60.74 L482.16 61.54 L479.99 62.42 L477.85 63.35 L475.75 64.36 L473.69 65.42 L471.67 66.55 L469.7 67.74 L467.78 68.99 L465.91 70.3 L464.09 71.66 L462.32 73.08 L460.61 74.56 L458.96 76.08 L457.37 77.66 L455.85 79.28 L454.38 80.95 L452.99 82.66 L451.66 84.41 L450.4 86.21 L449.22 88.04 L448.1 89.91 L447.06 91.81 L446.1 93.74 L445.21 95.7 L444.4 97.68 L443.66 99.69 L443.01 101.72 L442.44 103.77 L441.94 105.83 L441.53 107.91 L441.2 110 L440.96 112.1 L440.79 114.21 L440.71 116.32 L440.71 118.43 L440.79 120.54 L440.96 122.64 Z" fill="rgb(158,175,193)" fill-opacity="0.5" stroke="#fff" stroke-opacity="0.4" stroke-width="0.6"/>
<path d="M509.45 117.35 L440.96 122.64 L441.21 124.75 L441.54 126.84 L441.96 128.92 L442.45 130.99 L443.03 133.04 L443.68 135.07 L444.42 137.08 L445.24 139.07 L446.13 141.03 L447.1 142.96 L448.14 144.86 L449.26 146.73 L450.45 148.56 L451.71 150.35 L453.04 152.11 L454.44 153.82 L455.91 155.49 L457.44 157.11 L459.03 158.69 L460.69 160.21 L462.4 161.68 L464.17 163.1 L466 164.47 L467.88 165.77 L469.8 167.02 L471.78 168.21 L473.8 169.34 L475.87 170.4 L477.97 171.4 L480.11 172.34 L482.29 173.21 L484.5 174.01 L486.74 174.74 L489.01 175.4 L491.31 175.99 L493.62 176.52 L495.96 176.97 L498.31 177.35 L500.67 177.65 L503.05 177.89 L505.43 178.05 L507.82 178.13 L510.21 178.15 L512.6 178.09 L514.98 177.95 L517.36 177.75 L519.73 177.47 L522.08 177.11 L524.42 176.69 L526.75 176.19 L529.05 175.63 L531.33 174.99 L533.58 174.28 L535.8 173.51 L537.99 172.66 L540.15 171.75 L542.27 170.78 L544.35 169.74 L546.38 168.63 L548.38 167.46 L550.32 166.24 L552.22 164.95 L554.06 163.61 L555.85 162.21 L557.59 160.76 L559.27 159.25 L560.88 157.7 L562.44 156.09 L563.93 154.44 L565.35 152.74 L566.71 151 L568 149.22 L569.21 147.4 L570.36 145.55 Z" fill="rgb(198,151,153)" fill-opacity="0.5" stroke="#fff" stroke-opacity="0.4" stroke-width="0.6"/>
<path d="M509.45 117.35 L570.36 145.55 L571.42 143.68 L572.41 141.77 L573.32 139.84 L574.16 137.88 L574.92 135.9 L575.61 133.89 L576.21 131.87 L576.74 129.83 L577.18 127.77 L577.55 125.7 L577.83 123.62 L578.04 121.54 L578.16 119.44 L578.2 117.35 Z" fill="rgb(146,195,147)" fill-opacity="0.5" stroke="#fff" stroke-opacity="0.4" stroke-width="0.6"/>
<path d="M434.2 54.85 C438.2 54.71 506.34 54.71 506.75 62.68" fill="none" stroke="#333" stroke-width="0.7"/>
<rect x="401.8" y="43.1" width="34.1" height="26.9" fill="rgb(140,140,140)" fill-opacity="0.7"/>
<rect x="400.1" y="41.4" width="34.1" height="26.9" fill="rgb(255,255,192)" stroke="#000" stroke-width="0.5"/>
<text x="417.05" y="52.1" text-anchor="middle" class="lb">2370</text>
<text x="417.05" y="64.4" text-anchor="middle" class="lb">51.4%</text>
<path d="M433.6 178.65 C438.2 178.83 495.47 178.83 497.31 171.01" fill="none" stroke="#333" stroke-width="0.7"/>
<rect x="401.2" y="166.9" width="34.1" height="26.9" fill="rgb(140,140,140)" fill-opacity="0.7"/>
<rect x="399.5" y="165.2" width="34.1" height="26.9" fill="rgb(255,255,192)" stroke="#000" stroke-width="0.5"/>
<text x="416.45" y="175.9" text-anchor="middle" class="lb">1888</text>
<text x="416.45" y="188.2" text-anchor="middle" class="lb">40.9%</text>
<path d="M588.5 131.9 C580.7 132.32 578.64 132.32 569.53 130.42" fill="none" stroke="#333" stroke-width="0.7"/>
<rect x="590.2" y="120.2" width="28.1" height="26.8" fill="rgb(140,140,140)" fill-opacity="0.7"/>
<rect x="588.5" y="118.5" width="28.1" height="26.8" fill="rgb(255,255,192)" stroke="#000" stroke-width="0.5"/>
<text x="602.45" y="129.2" text-anchor="middle" class="lb">354</text>
<text x="602.45" y="141.5" text-anchor="middle" class="lb">7.7%</text>
<path d="M140.4 331.2 L209.15 331.2 L209.11 329.11 L208.99 327.02 L208.78 324.94 L208.5 322.86 L208.14 320.8 L207.69 318.75 L207.17 316.71 L206.57 314.69 L205.88 312.68 L205.13 310.7 L204.29 308.75 L203.38 306.82 L202.4 304.92 L201.34 303.05 L200.21 301.21 L199.01 299.41 L197.74 297.65 L196.4 295.93 L194.99 294.24 L193.52 292.61 L191.99 291.01 L190.4 289.47 L188.75 287.97 L187.04 286.53 L185.28 285.14 L183.46 283.8 L181.59 282.52 L179.67 281.3 L177.71 280.13 L175.7 279.03 L173.65 277.99 L171.57 277.01 L169.44 276.09 L167.28 275.24 L165.09 274.46 L162.87 273.74 L160.62 273.09 L158.35 272.51 L156.06 272 L153.75 271.56 L151.42 271.19 L149.08 270.89 L146.73 270.66 L144.38 270.5 L142.02 270.42 L139.65 270.4 L137.29 270.46 L134.93 270.59 L132.58 270.79 L130.23 271.07 L127.9 271.41 L125.59 271.83 L123.29 272.31 L121.01 272.87 Z" fill="rgb(158,175,193)" fill-opacity="0.5" stroke="#fff" stroke-opacity="0.4" stroke-width="0.6"/>
<path d="M140.4 331.2 L140.4 315.7 L209.15 315.7 L209.15 331.2 Z" fill="rgb(192,192,192)" fill-opacity="0.5" stroke="#fff" stroke-opacity="0.4" stroke-width="0.6"/>
<path d="M140.4 331.2 L121.01 272.87 L118.75 273.49 L116.51 274.19 L114.31 274.95 L112.13 275.78 L109.99 276.67 L107.89 277.63 L105.82 278.65 L103.79 279.73 L101.81 280.88 L99.88 282.08 L97.99 283.35 L96.15 284.67 L94.36 286.04 L92.63 287.47 L90.96 288.95 L89.34 290.48 L87.79 292.06 L86.3 293.69 L84.87 295.36 L83.5 297.07 L82.21 298.82 L80.98 300.61 L79.83 302.44 L78.74 304.3 L77.73 306.2 L76.8 308.12 L75.94 310.07 L75.15 312.04 L74.44 314.04 L73.82 316.06 L73.27 318.1 Z" fill="rgb(198,151,153)" fill-opacity="0.5" stroke="#fff" stroke-opacity="0.4" stroke-width="0.6"/>
<path d="M140.4 331.2 L140.4 315.7 L121.01 257.37 L121.01 272.87 Z" fill="rgb(192,192,192)" fill-opacity="0.5" stroke="#fff" stroke-opacity="0.4" stroke-width="0.6"/>
<path d="M140.4 331.2 L73.27 318.1 L72.79 320.16 L72.4 322.24 L72.09 324.32 L71.86 326.42 L71.72 328.52 L71.65 330.63 L71.67 332.73 L71.77 334.83 L71.96 336.93 L72.22 339.03 L72.57 341.11 L73 343.18 L73.51 345.24 L74.1 347.28 L74.77 349.3 L75.51 351.29 L76.34 353.27 L77.24 355.22 L78.22 357.14 L79.27 359.02 L80.4 360.88 L81.6 362.7 L82.86 364.48 L84.2 366.22 L85.61 367.92 L87.08 369.58 L88.61 371.19 L90.21 372.75 L91.86 374.26 L93.58 375.72 L95.35 377.13 L97.17 378.48 L99.05 379.77 L100.98 381.01 L102.95 382.19 L104.97 383.3 L107.03 384.36 L109.13 385.35 L111.27 386.27 L113.44 387.13 L115.65 387.92 L117.88 388.65 L120.15 389.3 L122.43 389.89 L124.74 390.4 L127.07 390.85 L129.41 391.22 L131.77 391.52 L134.13 391.75 L136.51 391.9 L138.89 391.99 L141.27 392 L143.65 391.93 L146.02 391.8 L148.39 391.59 L150.75 391.31 L153.1 390.95 L155.43 390.53 L157.74 390.03 L160.03 389.47 L162.3 388.83 L164.55 388.13 L166.76 387.35 L168.94 386.51 L171.09 385.61 L173.2 384.63 L175.27 383.6 L177.3 382.5 L179.29 381.34 L181.23 380.12 L183.12 378.84 L184.96 377.5 L186.74 376.11 L188.48 374.66 L190.15 373.17 L191.76 371.62 L193.31 370.02 L194.8 368.38 L196.22 366.69 L197.58 364.96 L198.87 363.19 L200.08 361.38 L201.23 359.53 L202.3 357.65 L203.3 355.74 L204.22 353.8 L205.07 351.83 L205.84 349.84 L206.53 347.83 L207.14 345.79 L207.67 343.74 L208.12 341.67 L208.49 339.59 L208.78 337.5 L208.99 335.41 L209.11 333.3 L209.15 331.2 Z" fill="rgb(146,195,147)" fill-opacity="0.5" stroke="#fff" stroke-opacity="0.4" stroke-width="0.6"/>
<path d="M140.4 331.2 L140.4 315.7 L73.27 302.6 L73.27 318.1 Z" fill="rgb(192,192,192)" fill-opacity="0.5" stroke="#fff" stroke-opacity="0.4" stroke-width="0.6"/>
<path d="M209.15 315.7 L209.11 313.6 L208.99 311.51 L208.78 309.41 L208.5 307.33 L208.13 305.26 L207.68 303.2 L207.15 301.15 L206.54 299.12 L205.86 297.11 L205.09 295.12 L204.25 293.16 L203.33 291.23 L202.34 289.32 L201.28 287.44 L200.14 285.6 L198.93 283.8 L197.65 282.03 L196.3 280.3 L194.88 278.62 L193.4 276.98 L191.86 275.38 L190.26 273.84 L188.59 272.34 L186.87 270.89 L185.09 269.5 L183.26 268.16 L181.38 266.88 L179.45 265.66 L177.48 264.5 L175.46 263.4 L173.4 262.36 L171.29 261.38 L169.16 260.47 L166.98 259.63 L164.78 258.85 L162.55 258.14 L160.29 257.5 L158 256.93 L155.7 256.42 L153.38 255.99 L151.04 255.63 L148.69 255.34 L146.33 255.13 L143.96 254.98 L141.59 254.91 L139.21 254.91 L136.84 254.98 L134.47 255.13 L132.11 255.34 L129.76 255.63 L127.42 255.99 L125.1 256.42 L122.8 256.93 L120.51 257.5 L118.25 258.14 L116.02 258.85 L113.82 259.63 L111.64 260.47 L109.51 261.38 L107.4 262.36 L105.34 263.4 L103.32 264.5 L101.35 265.66 L99.42 266.88 L97.54 268.16 L95.71 269.5 L93.93 270.89 L92.21 272.34 L90.54 273.84 L88.94 275.38 L87.4 276.98 L85.92 278.62 L84.5 280.3 L83.15 282.03 L81.87 283.8 L80.66 285.6 L79.52 287.44 L78.46 289.32 L77.47 291.23 L76.55 293.16 L75.71 295.12 L74.94 297.11 L74.26 299.12 L73.65 301.15 L73.12 303.2 L72.67 305.26 L72.3 307.33 L72.02 309.41 L71.81 311.51 L71.69 313.6 L71.65 315.7 L71.65 331.2 L71.69 329.1 L71.81 327.01 L72.02 324.91 L72.3 322.83 L72.67 320.76 L73.12 318.7 L73.65 316.65 L74.26 314.62 L74.94 312.61 L75.71 310.62 L76.55 308.66 L77.47 306.73 L78.46 304.82 L79.52 302.94 L80.66 301.1 L81.87 299.3 L83.15 297.53 L84.5 295.8 L85.92 294.12 L87.4 292.48 L88.94 290.88 L90.54 289.34 L92.21 287.84 L93.93 286.39 L95.71 285 L97.54 283.66 L99.42 282.38 L101.35 281.16 L103.32 280 L105.34 278.9 L107.4 277.86 L109.51 276.88 L111.64 275.97 L113.82 275.13 L116.02 274.35 L118.25 273.64 L120.51 273 L122.8 272.43 L125.1 271.92 L127.42 271.49 L129.76 271.13 L132.11 270.84 L134.47 270.63 L136.84 270.48 L139.21 270.41 L141.59 270.41 L143.96 270.48 L146.33 270.63 L148.69 270.84 L151.04 271.13 L153.38 271.49 L155.7 271.92 L158 272.43 L160.29 273 L162.55 273.64 L164.78 274.35 L166.98 275.13 L169.16 275.97 L171.29 276.88 L173.4 277.86 L175.46 278.9 L177.48 280 L179.45 281.16 L181.38 282.38 L183.26 283.66 L185.09 285 L186.87 286.39 L188.59 287.84 L190.26 289.34 L191.86 290.88 L193.4 292.48 L194.88 294.12 L196.3 295.8 L197.65 297.53 L198.93 299.3 L200.14 301.1 L201.28 302.94 L202.34 304.82 L203.33 306.73 L204.25 308.66 L205.09 310.62 L205.86 312.61 L206.54 314.62 L207.15 316.65 L207.68 318.7 L208.13 320.76 L208.5 322.83 L208.78 324.91 L208.99 327.01 L209.11 329.1 L209.15 331.2 Z" fill="rgb(128,128,128)" fill-opacity="0.5"/>
<path d="M71.65 315.7 L71.69 317.8 L71.81 319.89 L72.02 321.99 L72.3 324.07 L72.67 326.14 L73.12 328.2 L73.65 330.25 L74.26 332.28 L74.94 334.29 L75.71 336.28 L76.55 338.24 L77.47 340.17 L78.46 342.08 L79.52 343.96 L80.66 345.8 L81.87 347.6 L83.15 349.37 L84.5 351.1 L85.92 352.78 L87.4 354.42 L88.94 356.02 L90.54 357.56 L92.21 359.06 L93.93 360.51 L95.71 361.9 L97.54 363.24 L99.42 364.52 L101.35 365.74 L103.32 366.9 L105.34 368 L107.4 369.04 L109.51 370.02 L111.64 370.93 L113.82 371.77 L116.02 372.55 L118.25 373.26 L120.51 373.9 L122.8 374.47 L125.1 374.98 L127.42 375.41 L129.76 375.77 L132.11 376.06 L134.47 376.27 L136.84 376.42 L139.21 376.49 L141.59 376.49 L143.96 376.42 L146.33 376.27 L148.69 376.06 L151.04 375.77 L153.38 375.41 L155.7 374.98 L158 374.47 L160.29 373.9 L162.55 373.26 L164.78 372.55 L166.98 371.77 L169.16 370.93 L171.29 370.02 L173.4 369.04 L175.46 368 L177.48 366.9 L179.45 365.74 L181.38 364.52 L183.26 363.24 L185.09 361.9 L186.87 360.51 L188.59 359.06 L190.26 357.56 L191.86 356.02 L193.4 354.42 L194.88 352.78 L196.3 351.1 L197.65 349.37 L198.93 347.6 L200.14 345.8 L201.28 343.96 L202.34 342.08 L203.33 340.17 L204.25 338.24 L205.09 336.28 L205.86 334.29 L206.54 332.28 L207.15 330.25 L207.68 328.2 L208.13 326.14 L208.5 324.07 L208.78 321.99 L208.99 319.89 L209.11 317.8 L209.15 315.7 L209.15 331.2 L209.11 333.3 L208.99 335.39 L208.78 337.49 L208.5 339.57 L208.13 341.64 L207.68 343.7 L207.15 345.75 L206.54 347.78 L205.86 349.79 L205.09 351.78 L204.25 353.74 L203.33 355.67 L202.34 357.58 L201.28 359.46 L200.14 361.3 L198.93 363.1 L197.65 364.87 L196.3 366.6 L194.88 368.28 L193.4 369.92 L191.86 371.52 L190.26 373.06 L188.59 374.56 L186.87 376.01 L185.09 377.4 L183.26 378.74 L181.38 380.02 L179.45 381.24 L177.48 382.4 L175.46 383.5 L173.4 384.54 L171.29 385.52 L169.16 386.43 L166.98 387.27 L164.78 388.05 L162.55 388.76 L160.29 389.4 L158 389.97 L155.7 390.48 L153.38 390.91 L151.04 391.27 L148.69 391.56 L146.33 391.77 L143.96 391.92 L141.59 391.99 L139.21 391.99 L136.84 391.92 L134.47 391.77 L132.11 391.56 L129.76 391.27 L127.42 390.91 L125.1 390.48 L122.8 389.97 L120.51 389.4 L118.25 388.76 L116.02 388.05 L113.82 387.27 L111.64 386.43 L109.51 385.52 L107.4 384.54 L105.34 383.5 L103.32 382.4 L101.35 381.24 L99.42 380.02 L97.54 378.74 L95.71 377.4 L93.93 376.01 L92.21 374.56 L90.54 373.06 L88.94 371.52 L87.4 369.92 L85.92 368.28 L84.5 366.6 L83.15 364.87 L81.87 363.1 L80.66 361.3 L79.52 359.46 L78.46 357.58 L77.47 355.67 L76.55 353.74 L75.71 351.78 L74.94 349.79 L74.26 347.78 L73.65 345.75 L73.12 343.7 L72.67 341.64 L72.3 339.57 L72.02 337.49 L71.81 335.39 L71.69 333.3 L71.65 331.2 Z" fill="rgb(128,128,128)" fill-opacity="0.5"/>
<path d="M209.15 315.7 L209.11 313.61 L208.99 311.52 L208.78 309.44 L208.5 307.36 L208.14 305.3 L207.69 303.25 L207.17 301.21 L206.57 299.19 L205.88 297.18 L205.13 295.2 L204.29 293.25 L203.38 291.32 L202.4 289.42 L201.34 287.55 L200.21 285.71 L199.01 283.91 L197.74 282.15 L196.4 280.43 L194.99 278.74 L193.52 277.11 L191.99 275.51 L190.4 273.97 L188.75 272.47 L187.04 271.03 L185.28 269.64 L183.46 268.3 L181.59 267.02 L179.67 265.8 L177.71 264.63 L175.7 263.53 L173.65 262.49 L171.57 261.51 L169.44 260.59 L167.28 259.74 L165.09 258.96 L162.87 258.24 L160.62 257.59 L158.35 257.01 L156.06 256.5 L153.75 256.06 L151.42 255.69 L149.08 255.39 L146.73 255.16 L144.38 255 L142.02 254.92 L139.65 254.9 L137.29 254.96 L134.93 255.09 L132.58 255.29 L130.23 255.57 L127.9 255.91 L125.59 256.33 L123.29 256.81 L121.01 257.37 L121.01 272.87 L123.29 272.31 L125.59 271.83 L127.9 271.41 L130.23 271.07 L132.58 270.79 L134.93 270.59 L137.29 270.46 L139.65 270.4 L142.02 270.42 L144.38 270.5 L146.73 270.66 L149.08 270.89 L151.42 271.19 L153.75 271.56 L156.06 272 L158.35 272.51 L160.62 273.09 L162.87 273.74 L165.09 274.46 L167.28 275.24 L169.44 276.09 L171.57 277.01 L173.65 277.99 L175.7 279.03 L177.71 280.13 L179.67 281.3 L181.59 282.52 L183.46 283.8 L185.28 285.14 L187.04 286.53 L188.75 287.97 L190.4 289.47 L191.99 291.01 L193.52 292.61 L194.99 294.24 L196.4 295.93 L197.74 297.65 L199.01 299.41 L200.21 301.21 L201.34 303.05 L202.4 304.92 L203.38 306.82 L204.29 308.75 L205.13 310.7 L205.88 312.68 L206.57 314.69 L207.17 316.71 L207.69 318.75 L208.14 320.8 L208.5 322.86 L208.78 324.94 L208.99 327.02 L209.11 329.11 L209.15 331.2 Z" fill="rgb(158,175,193)" fill-opacity="0.5"/>
<path d="M121.01 257.37 L118.75 257.99 L116.51 258.69 L114.31 259.45 L112.13 260.28 L109.99 261.17 L107.89 262.13 L105.82 263.15 L103.79 264.23 L101.81 265.38 L99.88 266.58 L97.99 267.85 L96.15 269.17 L94.36 270.54 L92.63 271.97 L90.96 273.45 L89.34 274.98 L87.79 276.56 L86.3 278.19 L84.87 279.86 L83.5 281.57 L82.21 283.32 L80.98 285.11 L79.83 286.94 L78.74 288.8 L77.73 290.7 L76.8 292.62 L75.94 294.57 L75.15 296.54 L74.44 298.54 L73.82 300.56 L73.27 302.6 L73.27 318.1 L73.82 316.06 L74.44 314.04 L75.15 312.04 L75.94 310.07 L76.8 308.12 L77.73 306.2 L78.74 304.3 L79.83 302.44 L80.98 300.61 L82.21 298.82 L83.5 297.07 L84.87 295.36 L86.3 293.69 L87.79 292.06 L89.34 290.48 L90.96 288.95 L92.63 287.47 L94.36 286.04 L96.15 284.67 L97.99 283.35 L99.88 282.08 L101.81 280.88 L103.79 279.73 L105.82 278.65 L107.89 277.63 L109.99 276.67 L112.13 275.78 L114.31 274.95 L116.51 274.19 L118.75 273.49 L121.01 272.87 Z" fill="rgb(198,151,153)" fill-opacity="0.5"/>
<path d="M73.27 302.6 L72.84 304.45 L72.48 306.31 L72.18 308.17 L71.95 310.05 L71.78 311.93 L71.68 313.81 L71.65 315.7 L71.65 331.2 L71.68 329.31 L71.78 327.43 L71.95 325.55 L72.18 323.67 L72.48 321.81 L72.84 319.95 L73.27 318.1 Z" fill="rgb(146,195,147)" fill-opacity="0.5"/>
<path d="M71.65 315.7 L71.69 317.8 L71.81 319.89 L72.02 321.99 L72.3 324.07 L72.67 326.14 L73.12 328.2 L73.65 330.25 L74.26 332.28 L74.94 334.29 L75.71 336.28 L76.55 338.24 L77.47 340.17 L78.46 342.08 L79.52 343.96 L80.66 345.8 L81.87 347.6 L83.15 349.37 L84.5 351.1 L85.92 352.78 L87.4 354.42 L88.94 356.02 L90.54 357.56 L92.21 359.06 L93.93 360.51 L95.71 361.9 L97.54 363.24 L99.42 364.52 L101.35 365.74 L103.32 366.9 L105.34 368 L107.4 369.04 L109.51 370.02 L111.64 370.93 L113.82 371.77 L116.02 372.55 L118.25 373.26 L120.51 373.9 L122.8 374.47 L125.1 374.98 L127.42 375.41 L129.76 375.77 L132.11 376.06 L134.47 376.27 L136.84 376.42 L139.21 376.49 L141.59 376.49 L143.96 376.42 L146.33 376.27 L148.69 376.06 L151.04 375.77 L153.38 375.41 L155.7 374.98 L158 374.47 L160.29 373.9 L162.55 373.26 L164.78 372.55 L166.98 371.77 L169.16 370.93 L171.29 370.02 L173.4 369.04 L175.46 368 L177.48 366.9 L179.45 365.74 L181.38 364.52 L183.26 363.24 L185.09 361.9 L186.87 360.51 L188.59 359.06 L190.26 357.56 L191.86 356.02 L193.4 354.42 L194.88 352.78 L196.3 351.1 L197.65 349.37 L198.93 347.6 L200.14 345.8 L201.28 343.96 L202.34 342.08 L203.33 340.17 L204.25 338.24 L205.09 336.28 L205.86 334.29 L206.54 332.28 L207.15 330.25 L207.68 328.2 L208.13 326.14 L208.5 324.07 L208.78 321.99 L208.99 319.89 L209.11 317.8 L209.15 315.7 L209.15 331.2 L209.11 333.3 L208.99 335.39 L208.78 337.49 L208.5 339.57 L208.13 341.64 L207.68 343.7 L207.15 345.75 L206.54 347.78 L205.86 349.79 L205.09 351.78 L204.25 353.74 L203.33 355.67 L202.34 357.58 L201.28 359.46 L200.14 361.3 L198.93 363.1 L197.65 364.87 L196.3 366.6 L194.88 368.28 L193.4 369.92 L191.86 371.52 L190.26 373.06 L188.59 374.56 L186.87 376.01 L185.09 377.4 L183.26 378.74 L181.38 380.02 L179.45 381.24 L177.48 382.4 L175.46 383.5 L173.4 384.54 L171.29 385.52 L169.16 386.43 L166.98 387.27 L164.78 388.05 L162.55 388.76 L160.29 389.4 L158 389.97 L155.7 390.48 L153.38 390.91 L151.04 391.27 L148.69 391.56 L146.33 391.77 L143.96 391.92 L141.59 391.99 L139.21 391.99 L136.84 391.92 L134.47 391.77 L132.11 391.56 L129.76 391.27 L127.42 390.91 L125.1 390.48 L122.8 389.97 L120.51 389.4 L118.25 388.76 L116.02 388.05 L113.82 387.27 L111.64 386.43 L109.51 385.52 L107.4 384.54 L105.34 383.5 L103.32 382.4 L101.35 381.24 L99.42 380.02 L97.54 378.74 L95.71 377.4 L93.93 376.01 L92.21 374.56 L90.54 373.06 L88.94 371.52 L87.4 369.92 L85.92 368.28 L84.5 366.6 L83.15 364.87 L81.87 363.1 L80.66 361.3 L79.52 359.46 L78.46 357.58 L77.47 355.67 L76.55 353.74 L75.71 351.78 L74.94 349.79 L74.26 347.78 L73.65 345.75 L73.12 343.7 L72.67 341.64 L72.3 339.57 L72.02 337.49 L71.81 335.39 L71.69 333.3 L71.65 331.2 Z" fill="rgb(146,195,147)" fill-opacity="0.5"/>
<path d="M140.4 315.7 L209.15 315.7 L209.11 313.61 L208.99 311.52 L208.78 309.44 L208.5 307.36 L208.14 305.3 L207.69 303.25 L207.17 301.21 L206.57 299.19 L205.88 297.18 L205.13 295.2 L204.29 293.25 L203.38 291.32 L202.4 289.42 L201.34 287.55 L200.21 285.71 L199.01 283.91 L197.74 282.15 L196.4 280.43 L194.99 278.74 L193.52 277.11 L191.99 275.51 L190.4 273.97 L188.75 272.47 L187.04 271.03 L185.28 269.64 L183.46 268.3 L181.59 267.02 L179.67 265.8 L177.71 264.63 L175.7 263.53 L173.65 262.49 L171.57 261.51 L169.44 260.59 L167.28 259.74 L165.09 258.96 L162.87 258.24 L160.62 257.59 L158.35 257.01 L156.06 256.5 L153.75 256.06 L151.42 255.69 L149.08 255.39 L146.73 255.16 L144.38 255 L142.02 254.92 L139.65 254.9 L137.29 254.96 L134.93 255.09 L132.58 255.29 L130.23 255.57 L127.9 255.91 L125.59 256.33 L123.29 256.81 L121.01 257.37 Z" fill="rgb(158,175,193)" fill-opacity="0.5" stroke="#fff" stroke-opacity="0.4" stroke-width="0.6"/>
<path d="M140.4 315.7 L121.01 257.37 L118.75 257.99 L116.51 258.69 L114.31 259.45 L112.13 260.28 L109.99 261.17 L107.89 262.13 L105.82 263.15 L103.79 264.23 L101.81 265.38 L99.88 266.58 L97.99 267.85 L96.15 269.17 L94.36 270.54 L92.63 271.97 L90.96 273.45 L89.34 274.98 L87.79 276.56 L86.3 278.19 L84.87 279.86 L83.5 281.57 L82.21 283.32 L80.98 285.11 L79.83 286.94 L78.74 288.8 L77.73 290.7 L76.8 292.62 L75.94 294.57 L75.15 296.54 L74.44 298.54 L73.82 300.56 L73.27 302.6 Z" fill="rgb(198,151,153)" fill-opacity="0.5" stroke="#fff" stroke-opacity="0.4" stroke-width="0.6"/>
<path d="M140.4 315.7 L73.27 302.6 L72.79 304.66 L72.4 306.74 L72.09 308.82 L71.86 310.92 L71.72 313.02 L71.65 315.13 L71.67 317.23 L71.77 319.33 L71.96 321.43 L72.22 323.53 L72.57 325.61 L73 327.68 L73.51 329.74 L74.1 331.78 L74.77 333.8 L75.51 335.79 L76.34 337.77 L77.24 339.72 L78.22 341.64 L79.27 343.52 L80.4 345.38 L81.6 347.2 L82.86 348.98 L84.2 350.72 L85.61 352.42 L87.08 354.08 L88.61 355.69 L90.21 357.25 L91.86 358.76 L93.58 360.22 L95.35 361.63 L97.17 362.98 L99.05 364.27 L100.98 365.51 L102.95 366.69 L104.97 367.8 L107.03 368.86 L109.13 369.85 L111.27 370.77 L113.44 371.63 L115.65 372.42 L117.88 373.15 L120.15 373.8 L122.43 374.39 L124.74 374.9 L127.07 375.35 L129.41 375.72 L131.77 376.02 L134.13 376.25 L136.51 376.4 L138.89 376.49 L141.27 376.5 L143.65 376.43 L146.02 376.3 L148.39 376.09 L150.75 375.81 L153.1 375.45 L155.43 375.03 L157.74 374.53 L160.03 373.97 L162.3 373.33 L164.55 372.63 L166.76 371.85 L168.94 371.01 L171.09 370.11 L173.2 369.13 L175.27 368.1 L177.3 367 L179.29 365.84 L181.23 364.62 L183.12 363.34 L184.96 362 L186.74 360.61 L188.48 359.16 L190.15 357.67 L191.76 356.12 L193.31 354.52 L194.8 352.88 L196.22 351.19 L197.58 349.46 L198.87 347.69 L200.08 345.88 L201.23 344.03 L202.3 342.15 L203.3 340.24 L204.22 338.3 L205.07 336.33 L205.84 334.34 L206.53 332.33 L207.14 330.29 L207.67 328.24 L208.12 326.17 L208.49 324.09 L208.78 322 L208.99 319.91 L209.11 317.8 L209.15 315.7 Z" fill="rgb(146,195,147)" fill-opacity="0.5" stroke="#fff" stroke-opacity="0.4" stroke-width="0.6"/>
<path d="M218.3 265.45 C211.65 265.5 183.09 265.5 177.47 271.89" fill="none" stroke="#333" stroke-width="0.7"/>
<rect x="220" y="253.8" width="34" height="26.7" fill="rgb(140,140,140)" fill-opacity="0.7"/>
<rect x="218.3" y="252.1" width="34" height="26.7" fill="rgb(255,255,192)" stroke="#000" stroke-width="0.5"/>
<text x="235.2" y="262.8" text-anchor="middle" class="lb">2680</text>
<text x="235.2" y="275.1" text-anchor="middle" class="lb">29.6%</text>
<path d="M62.2 272.75 C69.15 272.91 88.32 272.91 95.17 278.36" fill="none" stroke="#333" stroke-width="0.7"/>
<rect x="30.4" y="261" width="33.5" height="26.9" fill="rgb(140,140,140)" fill-opacity="0.7"/>
<rect x="28.7" y="259.3" width="33.5" height="26.9" fill="rgb(255,255,192)" stroke="#000" stroke-width="0.5"/>
<text x="45.35" y="270" text-anchor="middle" class="lb">1541</text>
<text x="45.35" y="282.3" text-anchor="middle" class="lb">17.0%</text>
<path d="M65.2 377.85 C69.15 378.03 132.68 378.03 133.69 370.1" fill="none" stroke="#333" stroke-width="0.7"/>
<rect x="33.1" y="366.2" width="33.8" height="26.7" fill="rgb(140,140,140)" fill-opacity="0.7"/>
<rect x="31.4" y="364.5" width="33.8" height="26.7" fill="rgb(255,255,192)" stroke="#000" stroke-width="0.5"/>
<text x="48.2" y="375.2" text-anchor="middle" class="lb">4848</text>
<text x="48.2" y="387.5" text-anchor="middle" class="lb">53.5%</text>
<path d="M509.3 331.2 L578.05 331.2 L578.01 329.09 L577.88 326.98 L577.68 324.88 L577.39 322.78 L577.02 320.69 L576.56 318.62 L576.03 316.56 L575.41 314.52 L574.72 312.5 L573.95 310.51 L573.09 308.53 L572.17 306.59 L571.16 304.67 L570.08 302.79 L568.93 300.94 L567.71 299.13 L566.41 297.35 L565.05 295.62 L563.62 293.93 L562.12 292.28 L560.56 290.68 L558.94 289.13 L557.26 287.64 L555.52 286.19 L553.72 284.8 L551.87 283.46 L549.97 282.18 L548.02 280.96 L546.03 279.8 L543.99 278.71 L541.91 277.67 L539.78 276.7 L537.63 275.8 L535.43 274.96 L533.21 274.2 L530.96 273.5 L528.68 272.87 L526.38 272.31 L524.05 271.82 L521.71 271.4 L519.36 271.05 L516.99 270.78 L514.61 270.58 L512.23 270.46 L509.84 270.4 L507.46 270.42 L505.07 270.52 L502.69 270.68 L500.32 270.92 L497.96 271.23 L495.61 271.62 L493.28 272.07 L490.97 272.6 L488.68 273.2 L486.41 273.87 L484.17 274.61 L481.97 275.41 L479.79 276.28 L477.65 277.22 L475.55 278.23 L473.49 279.3 L471.48 280.43 L469.51 281.62 L467.58 282.87 L465.71 284.18 L463.89 285.55 L462.13 286.97 Z" fill="rgb(158,175,193)" fill-opacity="0.5" stroke="#fff" stroke-opacity="0.4" stroke-width="0.6"/>
<path d="M509.3 331.2 L509.3 315.7 L578.05 315.7 L578.05 331.2 Z" fill="rgb(192,192,192)" fill-opacity="0.5" stroke="#fff" stroke-opacity="0.4" stroke-width="0.6"/>
<path d="M509.3 331.2 L462.13 286.97 L460.43 288.43 L458.8 289.95 L457.22 291.51 L455.7 293.12 L454.25 294.78 L452.87 296.47 L451.55 298.21 L450.3 299.99 L449.12 301.81 L448.01 303.66 L446.97 305.54 L446.01 307.46 L445.12 309.4 L444.31 311.37 L443.58 313.36 L442.92 315.37 L442.34 317.4 L441.85 319.45 L441.43 321.51 L441.09 323.59 L440.84 325.67 L440.66 327.76 L440.57 329.85 L440.56 331.94 L440.62 334.04 L440.78 336.13 L441.01 338.21 L441.32 340.29 L441.72 342.35 L442.19 344.41 L442.75 346.44 L443.38 348.46 L444.09 350.46 L444.88 352.43 L445.74 354.38 L446.69 356.31 L447.7 358.2 L448.79 360.06 L449.95 361.89 L451.18 363.68 L452.48 365.43 L453.84 367.14 L455.28 368.81 L456.77 370.43 L458.33 372.01 L459.95 373.53 Z" fill="rgb(198,151,153)" fill-opacity="0.5" stroke="#fff" stroke-opacity="0.4" stroke-width="0.6"/>
<path d="M509.3 331.2 L509.3 315.7 L462.13 271.47 L462.13 286.97 Z" fill="rgb(192,192,192)" fill-opacity="0.5" stroke="#fff" stroke-opacity="0.4" stroke-width="0.6"/>
<path d="M509.3 331.2 L459.95 373.53 L461.65 375.03 L463.41 376.47 L465.22 377.86 L467.09 379.19 L469.01 380.46 L470.97 381.68 L472.99 382.83 L475.04 383.91 L477.14 384.94 L479.28 385.9 L481.46 386.79 L483.66 387.61 L485.9 388.37 L488.17 389.06 L490.47 389.67 L492.78 390.22 L495.12 390.69 L497.47 391.09 L499.84 391.42 L502.22 391.68 L504.61 391.86 L507.01 391.97 L509.4 392 L511.8 391.96 L514.19 391.85 L516.58 391.66 L518.96 391.4 L521.33 391.06 L523.68 390.65 L526.02 390.18 L528.33 389.62 L530.62 389 L532.89 388.31 L535.13 387.55 L537.33 386.72 L539.5 385.82 L541.64 384.85 L543.73 383.82 L545.79 382.73 L547.8 381.57 L549.76 380.36 L551.67 379.08 L553.54 377.74 L555.34 376.35 L557.1 374.9 L558.79 373.4 L560.42 371.85 L561.99 370.25 L563.5 368.6 L564.94 366.91 L566.32 365.17 L567.62 363.39 L568.86 361.57 L570.02 359.72 L571.11 357.83 L572.12 355.91 L573.05 353.96 L573.91 351.98 L574.69 349.97 L575.39 347.94 L576.01 345.9 L576.55 343.83 L577.01 341.75 L577.38 339.65 L577.67 337.55 L577.88 335.44 L578.01 333.32 L578.05 331.2 Z" fill="rgb(146,195,147)" fill-opacity="0.5" stroke="#fff" stroke-opacity="0.4" stroke-width="0.6"/>
<path d="M509.3 331.2 L509.3 315.7 L459.95 358.03 L459.95 373.53 Z" fill="rgb(192,192,192)" fill-opacity="0.5" stroke="#fff" stroke-opacity="0.4" stroke-width="0.6"/>
<path d="M578.05 315.7 L578.01 313.6 L577.89 311.51 L577.68 309.41 L577.4 307.33 L577.03 305.26 L576.58 303.2 L576.05 301.15 L575.44 299.12 L574.76 297.11 L573.99 295.12 L573.15 293.16 L572.23 291.23 L571.24 289.32 L570.18 287.44 L569.04 285.6 L567.83 283.8 L566.55 282.03 L565.2 280.3 L563.78 278.62 L562.3 276.98 L560.76 275.38 L559.16 273.84 L557.49 272.34 L555.77 270.89 L553.99 269.5 L552.16 268.16 L550.28 266.88 L548.35 265.66 L546.38 264.5 L544.36 263.4 L542.3 262.36 L540.19 261.38 L538.06 260.47 L535.88 259.63 L533.68 258.85 L531.45 258.14 L529.19 257.5 L526.9 256.93 L524.6 256.42 L522.28 255.99 L519.94 255.63 L517.59 255.34 L515.23 255.13 L512.86 254.98 L510.49 254.91 L508.11 254.91 L505.74 254.98 L503.37 255.13 L501.01 255.34 L498.66 255.63 L496.32 255.99 L494 256.42 L491.7 256.93 L489.41 257.5 L487.15 258.14 L484.92 258.85 L482.72 259.63 L480.54 260.47 L478.41 261.38 L476.3 262.36 L474.24 263.4 L472.22 264.5 L470.25 265.66 L468.32 266.88 L466.44 268.16 L464.61 269.5 L462.83 270.89 L461.11 272.34 L459.44 273.84 L457.84 275.38 L456.3 276.98 L454.82 278.62 L453.4 280.3 L452.05 282.03 L450.77 283.8 L449.56 285.6 L448.42 287.44 L447.36 289.32 L446.37 291.23 L445.45 293.16 L444.61 295.12 L443.84 297.11 L443.16 299.12 L442.55 301.15 L442.02 303.2 L441.57 305.26 L441.2 307.33 L440.92 309.41 L440.71 311.51 L440.59 313.6 L440.55 315.7 L440.55 331.2 L440.59 329.1 L440.71 327.01 L440.92 324.91 L441.2 322.83 L441.57 320.76 L442.02 318.7 L442.55 316.65 L443.16 314.62 L443.84 312.61 L444.61 310.62 L445.45 308.66 L446.37 306.73 L447.36 304.82 L448.42 302.94 L449.56 301.1 L450.77 299.3 L452.05 297.53 L453.4 295.8 L454.82 294.12 L456.3 292.48 L457.84 290.88 L459.44 289.34 L461.11 287.84 L462.83 286.39 L464.61 285 L466.44 283.66 L468.32 282.38 L470.25 281.16 L472.22 280 L474.24 278.9 L476.3 277.86 L478.41 276.88 L480.54 275.97 L482.72 275.13 L484.92 274.35 L487.15 273.64 L489.41 273 L491.7 272.43 L494 271.92 L496.32 271.49 L498.66 271.13 L501.01 270.84 L503.37 270.63 L505.74 270.48 L508.11 270.41 L510.49 270.41 L512.86 270.48 L515.23 270.63 L517.59 270.84 L519.94 271.13 L522.28 271.49 L524.6 271.92 L526.9 272.43 L529.19 273 L531.45 273.64 L533.68 274.35 L535.88 275.13 L538.06 275.97 L540.19 276.88 L542.3 277.86 L544.36 278.9 L546.38 280 L548.35 281.16 L550.28 282.38 L552.16 283.66 L553.99 285 L555.77 286.39 L557.49 287.84 L559.16 289.34 L560.76 290.88 L562.3 292.48 L563.78 294.12 L565.2 295.8 L566.55 297.53 L567.83 299.3 L569.04 301.1 L570.18 302.94 L571.24 304.82 L572.23 306.73 L573.15 308.66 L573.99 310.62 L574.76 312.61 L575.44 314.62 L576.05 316.65 L576.58 318.7 L577.03 320.76 L577.4 322.83 L577.68 324.91 L577.89 327.01 L578.01 329.1 L578.05 331.2 Z" fill="rgb(128,128,128)" fill-opacity="0.5"/>
<path d="M440.55 315.7 L440.59 317.8 L440.71 319.89 L440.92 321.99 L441.2 324.07 L441.57 326.14 L442.02 328.2 L442.55 330.25 L443.16 332.28 L443.84 334.29 L444.61 336.28 L445.45 338.24 L446.37 340.17 L447.36 342.08 L448.42 343.96 L449.56 345.8 L450.77 347.6 L452.05 349.37 L453.4 351.1 L454.82 352.78 L456.3 354.42 L457.84 356.02 L459.44 357.56 L461.11 359.06 L462.83 360.51 L464.61 361.9 L466.44 363.24 L468.32 364.52 L470.25 365.74 L472.22 366.9 L474.24 368 L476.3 369.04 L478.41 370.02 L480.54 370.93 L482.72 371.77 L484.92 372.55 L487.15 373.26 L489.41 373.9 L491.7 374.47 L494 374.98 L496.32 375.41 L498.66 375.77 L501.01 376.06 L503.37 376.27 L505.74 376.42 L508.11 376.49 L510.49 376.49 L512.86 376.42 L515.23 376.27 L517.59 376.06 L519.94 375.77 L522.28 375.41 L524.6 374.98 L526.9 374.47 L529.19 373.9 L531.45 373.26 L533.68 372.55 L535.88 371.77 L538.06 370.93 L540.19 370.02 L542.3 369.04 L544.36 368 L546.38 366.9 L548.35 365.74 L550.28 364.52 L552.16 363.24 L553.99 361.9 L555.77 360.51 L557.49 359.06 L559.16 357.56 L560.76 356.02 L562.3 354.42 L563.78 352.78 L565.2 351.1 L566.55 349.37 L567.83 347.6 L569.04 345.8 L570.18 343.96 L571.24 342.08 L572.23 340.17 L573.15 338.24 L573.99 336.28 L574.76 334.29 L575.44 332.28 L576.05 330.25 L576.58 328.2 L577.03 326.14 L577.4 324.07 L577.68 321.99 L577.89 319.89 L578.01 317.8 L578.05 315.7 L578.05 331.2 L578.01 333.3 L577.89 335.39 L577.68 337.49 L577.4 339.57 L577.03 341.64 L576.58 343.7 L576.05 345.75 L575.44 347.78 L574.76 349.79 L573.99 351.78 L573.15 353.74 L572.23 355.67 L571.24 357.58 L570.18 359.46 L569.04 361.3 L567.83 363.1 L566.55 364.87 L565.2 366.6 L563.78 368.28 L562.3 369.92 L560.76 371.52 L559.16 373.06 L557.49 374.56 L555.77 376.01 L553.99 377.4 L552.16 378.74 L550.28 380.02 L548.35 381.24 L546.38 382.4 L544.36 383.5 L542.3 384.54 L540.19 385.52 L538.06 386.43 L535.88 387.27 L533.68 388.05 L531.45 388.76 L529.19 389.4 L526.9 389.97 L524.6 390.48 L522.28 390.91 L519.94 391.27 L517.59 391.56 L515.23 391.77 L512.86 391.92 L510.49 391.99 L508.11 391.99 L505.74 391.92 L503.37 391.77 L501.01 391.56 L498.66 391.27 L496.32 390.91 L494 390.48 L491.7 389.97 L489.41 389.4 L487.15 388.76 L484.92 388.05 L482.72 387.27 L480.54 386.43 L478.41 385.52 L476.3 384.54 L474.24 383.5 L472.22 382.4 L470.25 381.24 L468.32 380.02 L466.44 378.74 L464.61 377.4 L462.83 376.01 L461.11 374.56 L459.44 373.06 L457.84 371.52 L456.3 369.92 L454.82 368.28 L453.4 366.6 L452.05 364.87 L450.77 363.1 L449.56 361.3 L448.42 359.46 L447.36 357.58 L446.37 355.67 L445.45 353.74 L444.61 351.78 L443.84 349.79 L443.16 347.78 L442.55 345.75 L442.02 343.7 L441.57 341.64 L441.2 339.57 L440.92 337.49 L440.71 335.39 L440.59 333.3 L440.55 331.2 Z" fill="rgb(128,128,128)" fill-opacity="0.5"/>
<path d="M578.05 315.7 L578.01 313.59 L577.88 311.48 L577.68 309.38 L577.39 307.28 L577.02 305.19 L576.56 303.12 L576.03 301.06 L575.41 299.02 L574.72 297 L573.95 295.01 L573.09 293.03 L572.17 291.09 L571.16 289.17 L570.08 287.29 L568.93 285.44 L567.71 283.63 L566.41 281.85 L565.05 280.12 L563.62 278.43 L562.12 276.78 L560.56 275.18 L558.94 273.63 L557.26 272.14 L555.52 270.69 L553.72 269.3 L551.87 267.96 L549.97 266.68 L548.02 265.46 L546.03 264.3 L543.99 263.21 L541.91 262.17 L539.78 261.2 L537.63 260.3 L535.43 259.46 L533.21 258.7 L530.96 258 L528.68 257.37 L526.38 256.81 L524.05 256.32 L521.71 255.9 L519.36 255.55 L516.99 255.28 L514.61 255.08 L512.23 254.96 L509.84 254.9 L507.46 254.92 L505.07 255.02 L502.69 255.18 L500.32 255.42 L497.96 255.73 L495.61 256.12 L493.28 256.57 L490.97 257.1 L488.68 257.7 L486.41 258.37 L484.17 259.11 L481.97 259.91 L479.79 260.78 L477.65 261.72 L475.55 262.73 L473.49 263.8 L471.48 264.93 L469.51 266.12 L467.58 267.37 L465.71 268.68 L463.89 270.05 L462.13 271.47 L462.13 286.97 L463.89 285.55 L465.71 284.18 L467.58 282.87 L469.51 281.62 L471.48 280.43 L473.49 279.3 L475.55 278.23 L477.65 277.22 L479.79 276.28 L481.97 275.41 L484.17 274.61 L486.41 273.87 L488.68 273.2 L490.97 272.6 L493.28 272.07 L495.61 271.62 L497.96 271.23 L500.32 270.92 L502.69 270.68 L505.07 270.52 L507.46 270.42 L509.84 270.4 L512.23 270.46 L514.61 270.58 L516.99 270.78 L519.36 271.05 L521.71 271.4 L524.05 271.82 L526.38 272.31 L528.68 272.87 L530.96 273.5 L533.21 274.2 L535.43 274.96 L537.63 275.8 L539.78 276.7 L541.91 277.67 L543.99 278.71 L546.03 279.8 L548.02 280.96 L549.97 282.18 L551.87 283.46 L553.72 284.8 L555.52 286.19 L557.26 287.64 L558.94 289.13 L560.56 290.68 L562.12 292.28 L563.62 293.93 L565.05 295.62 L566.41 297.35 L567.71 299.13 L568.93 300.94 L570.08 302.79 L571.16 304.67 L572.17 306.59 L573.09 308.53 L573.95 310.51 L574.72 312.5 L575.41 314.52 L576.03 316.56 L576.56 318.62 L577.02 320.69 L577.39 322.78 L577.68 324.88 L577.88 326.98 L578.01 329.09 L578.05 331.2 Z" fill="rgb(158,175,193)" fill-opacity="0.5"/>
<path d="M462.13 271.47 L460.46 272.91 L458.84 274.4 L457.29 275.94 L455.79 277.52 L454.36 279.15 L452.99 280.82 L451.68 282.53 L450.44 284.28 L449.27 286.06 L448.17 287.88 L447.14 289.73 L446.17 291.61 L445.29 293.52 L444.47 295.46 L443.73 297.41 L443.07 299.39 L442.48 301.39 L441.97 303.4 L441.54 305.43 L441.18 307.47 L440.91 309.52 L440.71 311.58 L440.59 313.64 L440.55 315.7 L440.55 331.2 L440.59 329.14 L440.71 327.08 L440.91 325.02 L441.18 322.97 L441.54 320.93 L441.97 318.9 L442.48 316.89 L443.07 314.89 L443.73 312.91 L444.47 310.96 L445.29 309.02 L446.17 307.11 L447.14 305.23 L448.17 303.38 L449.27 301.56 L450.44 299.78 L451.68 298.03 L452.99 296.32 L454.36 294.65 L455.79 293.02 L457.29 291.44 L458.84 289.9 L460.46 288.41 L462.13 286.97 Z" fill="rgb(198,151,153)" fill-opacity="0.5"/>
<path d="M440.55 315.7 L440.59 317.74 L440.7 319.77 L440.9 321.8 L441.17 323.82 L441.51 325.83 L441.93 327.83 L442.43 329.82 L443 331.79 L443.65 333.75 L444.37 335.68 L445.16 337.59 L446.03 339.48 L446.96 341.34 L447.97 343.17 L449.04 344.97 L450.18 346.74 L451.39 348.47 L452.67 350.17 L454 351.83 L455.4 353.44 L456.86 355.02 L458.38 356.55 L459.95 358.03 L459.95 373.53 L458.38 372.05 L456.86 370.52 L455.4 368.94 L454 367.33 L452.67 365.67 L451.39 363.97 L450.18 362.24 L449.04 360.47 L447.97 358.67 L446.96 356.84 L446.03 354.98 L445.16 353.09 L444.37 351.18 L443.65 349.25 L443 347.29 L442.43 345.32 L441.93 343.33 L441.51 341.33 L441.17 339.32 L440.9 337.3 L440.7 335.27 L440.59 333.24 L440.55 331.2 Z" fill="rgb(198,151,153)" fill-opacity="0.5"/>
<path d="M459.95 358.03 L461.65 359.53 L463.41 360.97 L465.22 362.36 L467.09 363.69 L469.01 364.96 L470.97 366.18 L472.99 367.33 L475.04 368.41 L477.14 369.44 L479.28 370.4 L481.46 371.29 L483.66 372.11 L485.9 372.87 L488.17 373.56 L490.47 374.17 L492.78 374.72 L495.12 375.19 L497.47 375.59 L499.84 375.92 L502.22 376.18 L504.61 376.36 L507.01 376.47 L509.4 376.5 L511.8 376.46 L514.19 376.35 L516.58 376.16 L518.96 375.9 L521.33 375.56 L523.68 375.15 L526.02 374.68 L528.33 374.12 L530.62 373.5 L532.89 372.81 L535.13 372.05 L537.33 371.22 L539.5 370.32 L541.64 369.35 L543.73 368.32 L545.79 367.23 L547.8 366.07 L549.76 364.86 L551.67 363.58 L553.54 362.24 L555.34 360.85 L557.1 359.4 L558.79 357.9 L560.42 356.35 L561.99 354.75 L563.5 353.1 L564.94 351.41 L566.32 349.67 L567.62 347.89 L568.86 346.07 L570.02 344.22 L571.11 342.33 L572.12 340.41 L573.05 338.46 L573.91 336.48 L574.69 334.47 L575.39 332.44 L576.01 330.4 L576.55 328.33 L577.01 326.25 L577.38 324.15 L577.67 322.05 L577.88 319.94 L578.01 317.82 L578.05 315.7 L578.05 331.2 L578.01 333.32 L577.88 335.44 L577.67 337.55 L577.38 339.65 L577.01 341.75 L576.55 343.83 L576.01 345.9 L575.39 347.94 L574.69 349.97 L573.91 351.98 L573.05 353.96 L572.12 355.91 L571.11 357.83 L570.02 359.72 L568.86 361.57 L567.62 363.39 L566.32 365.17 L564.94 366.91 L563.5 368.6 L561.99 370.25 L560.42 371.85 L558.79 373.4 L557.1 374.9 L555.34 376.35 L553.54 377.74 L551.67 379.08 L549.76 380.36 L547.8 381.57 L545.79 382.73 L543.73 383.82 L541.64 384.85 L539.5 385.82 L537.33 386.72 L535.13 387.55 L532.89 388.31 L530.62 389 L528.33 389.62 L526.02 390.18 L523.68 390.65 L521.33 391.06 L518.96 391.4 L516.58 391.66 L514.19 391.85 L511.8 391.96 L509.4 392 L507.01 391.97 L504.61 391.86 L502.22 391.68 L499.84 391.42 L497.47 391.09 L495.12 390.69 L492.78 390.22 L490.47 389.67 L488.17 389.06 L485.9 388.37 L483.66 387.61 L481.46 386.79 L479.28 385.9 L477.14 384.94 L475.04 383.91 L472.99 382.83 L470.97 381.68 L469.01 380.46 L467.09 379.19 L465.22 377.86 L463.41 376.47 L461.65 375.03 L459.95 373.53 Z" fill="rgb(146,195,147)" fill-opacity="0.5"/>
<path d="M509.3 315.7 L578.05 315.7 L578.01 313.59 L577.88 311.48 L577.68 309.38 L577.39 307.28 L577.02 305.19 L576.56 303.12 L576.03 301.06 L575.41 299.02 L574.72 297 L573.95 295.01 L573.09 293.03 L572.17 291.09 L571.16 289.17 L570.08 287.29 L568.93 285.44 L567.71 283.63 L566.41 281.85 L565.05 280.12 L563.62 278.43 L562.12 276.78 L560.56 275.18 L558.94 273.63 L557.26 272.14 L555.52 270.69 L553.72 269.3 L551.87 267.96 L549.97 266.68 L548.02 265.46 L546.03 264.3 L543.99 263.21 L541.91 262.17 L539.78 261.2 L537.63 260.3 L535.43 259.46 L533.21 258.7 L530.96 258 L528.68 257.37 L526.38 256.81 L524.05 256.32 L521.71 255.9 L519.36 255.55 L516.99 255.28 L514.61 255.08 L512.23 254.96 L509.84 254.9 L507.46 254.92 L505.07 255.02 L502.69 255.18 L500.32 255.42 L497.96 255.73 L495.61 256.12 L493.28 256.57 L490.97 257.1 L488.68 257.7 L486.41 258.37 L484.17 259.11 L481.97 259.91 L479.79 260.78 L477.65 261.72 L475.55 262.73 L473.49 263.8 L471.48 264.93 L469.51 266.12 L467.58 267.37 L465.71 268.68 L463.89 270.05 L462.13 271.47 Z" fill="rgb(158,175,193)" fill-opacity="0.5" stroke="#fff" stroke-opacity="0.4" stroke-width="0.6"/>
<path d="M509.3 315.7 L462.13 271.47 L460.43 272.93 L458.8 274.45 L457.22 276.01 L455.7 277.62 L454.25 279.28 L452.87 280.97 L451.55 282.71 L450.3 284.49 L449.12 286.31 L448.01 288.16 L446.97 290.04 L446.01 291.96 L445.12 293.9 L444.31 295.87 L443.58 297.86 L442.92 299.87 L442.34 301.9 L441.85 303.95 L441.43 306.01 L441.09 308.09 L440.84 310.17 L440.66 312.26 L440.57 314.35 L440.56 316.44 L440.62 318.54 L440.78 320.63 L441.01 322.71 L441.32 324.79 L441.72 326.85 L442.19 328.91 L442.75 330.94 L443.38 332.96 L444.09 334.96 L444.88 336.93 L445.74 338.88 L446.69 340.81 L447.7 342.7 L448.79 344.56 L449.95 346.39 L451.18 348.18 L452.48 349.93 L453.84 351.64 L455.28 353.31 L456.77 354.93 L458.33 356.51 L459.95 358.03 Z" fill="rgb(198,151,153)" fill-opacity="0.5" stroke="#fff" stroke-opacity="0.4" stroke-width="0.6"/>
<path d="M509.3 315.7 L459.95 358.03 L461.65 359.53 L463.41 360.97 L465.22 362.36 L467.09 363.69 L469.01 364.96 L470.97 366.18 L472.99 367.33 L475.04 368.41 L477.14 369.44 L479.28 370.4 L481.46 371.29 L483.66 372.11 L485.9 372.87 L488.17 373.56 L490.47 374.17 L492.78 374.72 L495.12 375.19 L497.47 375.59 L499.84 375.92 L502.22 376.18 L504.61 376.36 L507.01 376.47 L509.4 376.5 L511.8 376.46 L514.19 376.35 L516.58 376.16 L518.96 375.9 L521.33 375.56 L523.68 375.15 L526.02 374.68 L528.33 374.12 L530.62 373.5 L532.89 372.81 L535.13 372.05 L537.33 371.22 L539.5 370.32 L541.64 369.35 L543.73 368.32 L545.79 367.23 L547.8 366.07 L549.76 364.86 L551.67 363.58 L553.54 362.24 L555.34 360.85 L557.1 359.4 L558.79 357.9 L560.42 356.35 L561.99 354.75 L563.5 353.1 L564.94 351.41 L566.32 349.67 L567.62 347.89 L568.86 346.07 L570.02 344.22 L571.11 342.33 L572.12 340.41 L573.05 338.46 L573.91 336.48 L574.69 334.47 L575.39 332.44 L576.01 330.4 L576.55 328.33 L577.01 326.25 L577.38 324.15 L577.67 322.05 L577.88 319.94 L578.01 317.82 L578.05 315.7 Z" fill="rgb(146,195,147)" fill-opacity="0.5" stroke="#fff" stroke-opacity="0.4" stroke-width="0.6"/>
<path d="M585.7 258 C580.55 258.13 537.53 258.13 533.81 265.46" fill="none" stroke="#333" stroke-width="0.7"/>
<rect x="587.4" y="246.1" width="34" height="27.2" fill="rgb(140,140,140)" fill-opacity="0.7"/>
<rect x="585.7" y="244.4" width="34" height="27.2" fill="rgb(255,255,192)" stroke="#000" stroke-width="0.5"/>
<text x="602.6" y="255.1" text-anchor="middle" class="lb">5186</text>
<text x="602.6" y="267.4" text-anchor="middle" class="lb">37.0%</text>
<path d="M429.7 314.05 C438.05 314.31 438.07 314.31 447.44 314.48" fill="none" stroke="#333" stroke-width="0.7"/>
<rect x="397" y="302.5" width="34.4" height="26.5" fill="rgb(140,140,140)" fill-opacity="0.7"/>
<rect x="395.3" y="300.8" width="34.4" height="26.5" fill="rgb(255,255,192)" stroke="#000" stroke-width="0.5"/>
<text x="412.4" y="311.5" text-anchor="middle" class="lb">3532</text>
<text x="412.4" y="323.8" text-anchor="middle" class="lb">25.2%</text>
<path d="M585.8 373.85 C580.55 373.81 536.07 373.81 532.54 366.41" fill="none" stroke="#333" stroke-width="0.7"/>
<rect x="587.5" y="362.1" width="33.7" height="26.9" fill="rgb(140,140,140)" fill-opacity="0.7"/>
<rect x="585.8" y="360.4" width="33.7" height="26.9" fill="rgb(255,255,192)" stroke="#000" stroke-width="0.5"/>
<text x="602.55" y="371.1" text-anchor="middle" class="lb">5285</text>
<text x="602.55" y="383.4" text-anchor="middle" class="lb">37.7%</text>
<path d="M877.7 331.2 L946.45 331.2 L946.41 329.09 L946.28 326.98 L946.08 324.88 L945.79 322.79 L945.42 320.71 L944.97 318.63 L944.43 316.58 L943.82 314.54 L943.13 312.52 L942.35 310.53 L941.5 308.55 L940.58 306.61 L939.57 304.7 L938.5 302.81 L937.35 300.97 L936.13 299.15 L934.83 297.38 L933.47 295.65 L932.04 293.96 L930.55 292.31 L928.99 290.72 L927.38 289.17 L925.7 287.67 L923.96 286.22 L922.17 284.83 L920.32 283.49 L918.43 282.22 L916.48 281 L914.49 279.84 L912.45 278.74 L910.37 277.7 L908.25 276.73 L906.1 275.83 L903.91 274.99 L901.69 274.22 L899.44 273.52 L897.16 272.89 L894.86 272.33 L892.55 271.83 L890.21 271.41 L887.85 271.07 L885.49 270.79 L883.12 270.59 L880.74 270.46 L878.35 270.4 L875.97 270.42 L873.58 270.51 L871.2 270.67 L868.83 270.91 L866.47 271.22 L864.13 271.6 L861.8 272.05 L859.49 272.57 L857.2 273.17 L854.94 273.83 L852.7 274.56 L850.49 275.36 L848.32 276.23 L846.18 277.17 L844.08 278.17 L842.02 279.23 L840 280.36 L838.03 281.54 L836.11 282.79 L834.23 284.09 L832.41 285.46 Z" fill="rgb(158,175,193)" fill-opacity="0.5" stroke="#fff" stroke-opacity="0.4" stroke-width="0.6"/>
<path d="M877.7 331.2 L877.7 315.7 L946.45 315.7 L946.45 331.2 Z" fill="rgb(192,192,192)" fill-opacity="0.5" stroke="#fff" stroke-opacity="0.4" stroke-width="0.6"/>
<path d="M877.7 331.2 L832.41 285.46 L830.64 286.88 L828.92 288.35 L827.27 289.88 L825.67 291.46 L824.14 293.08 L822.67 294.75 L821.27 296.47 L819.94 298.23 L818.68 300.02 L817.49 301.86 L816.37 303.73 L815.32 305.63 L814.36 307.57 L813.46 309.53 L812.65 311.52 L811.92 313.53 L811.26 315.57 L810.69 317.62 L810.19 319.69 L809.78 321.78 L809.45 323.87 L809.2 325.98 L809.04 328.09 L808.96 330.2 L808.96 332.32 L809.05 334.43 L809.22 336.54 L809.47 338.65 L809.8 340.74 L810.22 342.83 L810.72 344.9 L811.3 346.95 L811.96 348.98 L812.7 350.99 L813.51 352.98 L814.41 354.94 L815.38 356.88 L816.43 358.78 L817.55 360.65 L818.75 362.48 L820.01 364.28 L821.35 366.03 L822.75 367.74 Z" fill="rgb(198,151,153)" fill-opacity="0.5" stroke="#fff" stroke-opacity="0.4" stroke-width="0.6"/>
<path d="M877.7 331.2 L877.7 315.7 L832.41 269.96 L832.41 285.46 Z" fill="rgb(192,192,192)" fill-opacity="0.5" stroke="#fff" stroke-opacity="0.4" stroke-width="0.6"/>
<path d="M877.7 331.2 L822.75 367.74 L824.22 369.41 L825.75 371.02 L827.34 372.59 L829 374.11 L830.71 375.58 L832.48 376.99 L834.3 378.35 L836.17 379.66 L838.1 380.9 L840.07 382.08 L842.09 383.21 L844.15 384.27 L846.25 385.26 L848.39 386.2 L850.56 387.06 L852.77 387.86 L855 388.59 L857.27 389.25 L859.55 389.84 L861.86 390.37 L864.19 390.82 L866.54 391.19 L868.9 391.5 L871.27 391.73 L873.64 391.89 L876.03 391.98 L878.41 392 L880.79 391.94 L883.17 391.81 L885.54 391.6 L887.91 391.33 L890.26 390.98 L892.59 390.56 L894.91 390.06 L897.21 389.5 L899.48 388.87 L901.73 388.16 L903.95 387.39 L906.14 386.55 L908.29 385.65 L910.41 384.68 L912.48 383.64 L914.52 382.55 L916.51 381.39 L918.45 380.17 L920.35 378.89 L922.19 377.55 L923.98 376.16 L925.72 374.71 L927.39 373.21 L929.01 371.67 L930.57 370.07 L932.06 368.42 L933.49 366.73 L934.85 365 L936.14 363.23 L937.36 361.42 L938.51 359.57 L939.58 357.69 L940.58 355.78 L941.51 353.83 L942.36 351.86 L943.13 349.87 L943.82 347.85 L944.43 345.81 L944.97 343.76 L945.42 341.69 L945.79 339.61 L946.08 337.51 L946.28 335.41 L946.41 333.31 L946.45 331.2 Z" fill="rgb(146,195,147)" fill-opacity="0.5" stroke="#fff" stroke-opacity="0.4" stroke-width="0.6"/>
<path d="M877.7 331.2 L877.7 315.7 L822.75 352.24 L822.75 367.74 Z" fill="rgb(192,192,192)" fill-opacity="0.5" stroke="#fff" stroke-opacity="0.4" stroke-width="0.6"/>
<path d="M946.45 315.7 L946.41 313.6 L946.29 311.51 L946.08 309.41 L945.8 307.33 L945.43 305.26 L944.98 303.2 L944.45 301.15 L943.84 299.12 L943.16 297.11 L942.39 295.12 L941.55 293.16 L940.63 291.23 L939.64 289.32 L938.58 287.44 L937.44 285.6 L936.23 283.8 L934.95 282.03 L933.6 280.3 L932.18 278.62 L930.7 276.98 L929.16 275.38 L927.56 273.84 L925.89 272.34 L924.17 270.89 L922.39 269.5 L920.56 268.16 L918.68 266.88 L916.75 265.66 L914.78 264.5 L912.76 263.4 L910.7 262.36 L908.59 261.38 L906.46 260.47 L904.28 259.63 L902.08 258.85 L899.85 258.14 L897.59 257.5 L895.3 256.93 L893 256.42 L890.68 255.99 L888.34 255.63 L885.99 255.34 L883.63 255.13 L881.26 254.98 L878.89 254.91 L876.51 254.91 L874.14 254.98 L871.77 255.13 L869.41 255.34 L867.06 255.63 L864.72 255.99 L862.4 256.42 L860.1 256.93 L857.81 257.5 L855.55 258.14 L853.32 258.85 L851.12 259.63 L848.94 260.47 L846.81 261.38 L844.7 262.36 L842.64 263.4 L840.62 264.5 L838.65 265.66 L836.72 266.88 L834.84 268.16 L833.01 269.5 L831.23 270.89 L829.51 272.34 L827.84 273.84 L826.24 275.38 L824.7 276.98 L823.22 278.62 L821.8 280.3 L820.45 282.03 L819.17 283.8 L817.96 285.6 L816.82 287.44 L815.76 289.32 L814.77 291.23 L813.85 293.16 L813.01 295.12 L812.24 297.11 L811.56 299.12 L810.95 301.15 L810.42 303.2 L809.97 305.26 L809.6 307.33 L809.32 309.41 L809.11 311.51 L808.99 313.6 L808.95 315.7 L808.95 331.2 L808.99 329.1 L809.11 327.01 L809.32 324.91 L809.6 322.83 L809.97 320.76 L810.42 318.7 L810.95 316.65 L811.56 314.62 L812.24 312.61 L813.01 310.62 L813.85 308.66 L814.77 306.73 L815.76 304.82 L816.82 302.94 L817.96 301.1 L819.17 299.3 L820.45 297.53 L821.8 295.8 L823.22 294.12 L824.7 292.48 L826.24 290.88 L827.84 289.34 L829.51 287.84 L831.23 286.39 L833.01 285 L834.84 283.66 L836.72 282.38 L838.65 281.16 L840.62 280 L842.64 278.9 L844.7 277.86 L846.81 276.88 L848.94 275.97 L851.12 275.13 L853.32 274.35 L855.55 273.64 L857.81 273 L860.1 272.43 L862.4 271.92 L864.72 271.49 L867.06 271.13 L869.41 270.84 L871.77 270.63 L874.14 270.48 L876.51 270.41 L878.89 270.41 L881.26 270.48 L883.63 270.63 L885.99 270.84 L888.34 271.13 L890.68 271.49 L893 271.92 L895.3 272.43 L897.59 273 L899.85 273.64 L902.08 274.35 L904.28 275.13 L906.46 275.97 L908.59 276.88 L910.7 277.86 L912.76 278.9 L914.78 280 L916.75 281.16 L918.68 282.38 L920.56 283.66 L922.39 285 L924.17 286.39 L925.89 287.84 L927.56 289.34 L929.16 290.88 L930.7 292.48 L932.18 294.12 L933.6 295.8 L934.95 297.53 L936.23 299.3 L937.44 301.1 L938.58 302.94 L939.64 304.82 L940.63 306.73 L941.55 308.66 L942.39 310.62 L943.16 312.61 L943.84 314.62 L944.45 316.65 L944.98 318.7 L945.43 320.76 L945.8 322.83 L946.08 324.91 L946.29 327.01 L946.41 329.1 L946.45 331.2 Z" fill="rgb(128,128,128)" fill-opacity="0.5"/>
<path d="M808.95 315.7 L808.99 317.8 L809.11 319.89 L809.32 321.99 L809.6 324.07 L809.97 326.14 L810.42 328.2 L810.95 330.25 L811.56 332.28 L812.24 334.29 L813.01 336.28 L813.85 338.24 L814.77 340.17 L815.76 342.08 L816.82 343.96 L817.96 345.8 L819.17 347.6 L820.45 349.37 L821.8 351.1 L823.22 352.78 L824.7 354.42 L826.24 356.02 L827.84 357.56 L829.51 359.06 L831.23 360.51 L833.01 361.9 L834.84 363.24 L836.72 364.52 L838.65 365.74 L840.62 366.9 L842.64 368 L844.7 369.04 L846.81 370.02 L848.94 370.93 L851.12 371.77 L853.32 372.55 L855.55 373.26 L857.81 373.9 L860.1 374.47 L862.4 374.98 L864.72 375.41 L867.06 375.77 L869.41 376.06 L871.77 376.27 L874.14 376.42 L876.51 376.49 L878.89 376.49 L881.26 376.42 L883.63 376.27 L885.99 376.06 L888.34 375.77 L890.68 375.41 L893 374.98 L895.3 374.47 L897.59 373.9 L899.85 373.26 L902.08 372.55 L904.28 371.77 L906.46 370.93 L908.59 370.02 L910.7 369.04 L912.76 368 L914.78 366.9 L916.75 365.74 L918.68 364.52 L920.56 363.24 L922.39 361.9 L924.17 360.51 L925.89 359.06 L927.56 357.56 L929.16 356.02 L930.7 354.42 L932.18 352.78 L933.6 351.1 L934.95 349.37 L936.23 347.6 L937.44 345.8 L938.58 343.96 L939.64 342.08 L940.63 340.17 L941.55 338.24 L942.39 336.28 L943.16 334.29 L943.84 332.28 L944.45 330.25 L944.98 328.2 L945.43 326.14 L945.8 324.07 L946.08 321.99 L946.29 319.89 L946.41 317.8 L946.45 315.7 L946.45 331.2 L946.41 333.3 L946.29 335.39 L946.08 337.49 L945.8 339.57 L945.43 341.64 L944.98 343.7 L944.45 345.75 L943.84 347.78 L943.16 349.79 L942.39 351.78 L941.55 353.74 L940.63 355.67 L939.64 357.58 L938.58 359.46 L937.44 361.3 L936.23 363.1 L934.95 364.87 L933.6 366.6 L932.18 368.28 L930.7 369.92 L929.16 371.52 L927.56 373.06 L925.89 374.56 L924.17 376.01 L922.39 377.4 L920.56 378.74 L918.68 380.02 L916.75 381.24 L914.78 382.4 L912.76 383.5 L910.7 384.54 L908.59 385.52 L906.46 386.43 L904.28 387.27 L902.08 388.05 L899.85 388.76 L897.59 389.4 L895.3 389.97 L893 390.48 L890.68 390.91 L888.34 391.27 L885.99 391.56 L883.63 391.77 L881.26 391.92 L878.89 391.99 L876.51 391.99 L874.14 391.92 L871.77 391.77 L869.41 391.56 L867.06 391.27 L864.72 390.91 L862.4 390.48 L860.1 389.97 L857.81 389.4 L855.55 388.76 L853.32 388.05 L851.12 387.27 L848.94 386.43 L846.81 385.52 L844.7 384.54 L842.64 383.5 L840.62 382.4 L838.65 381.24 L836.72 380.02 L834.84 378.74 L833.01 377.4 L831.23 376.01 L829.51 374.56 L827.84 373.06 L826.24 371.52 L824.7 369.92 L823.22 368.28 L821.8 366.6 L820.45 364.87 L819.17 363.1 L817.96 361.3 L816.82 359.46 L815.76 357.58 L814.77 355.67 L813.85 353.74 L813.01 351.78 L812.24 349.79 L811.56 347.78 L810.95 345.75 L810.42 343.7 L809.97 341.64 L809.6 339.57 L809.32 337.49 L809.11 335.39 L808.99 333.3 L808.95 331.2 Z" fill="rgb(128,128,128)" fill-opacity="0.5"/>
<path d="M946.45 315.7 L946.41 313.59 L946.28 311.48 L946.08 309.38 L945.79 307.29 L945.42 305.21 L944.97 303.13 L944.43 301.08 L943.82 299.04 L943.13 297.02 L942.35 295.03 L941.5 293.05 L940.58 291.11 L939.57 289.2 L938.5 287.31 L937.35 285.47 L936.13 283.65 L934.83 281.88 L933.47 280.15 L932.04 278.46 L930.55 276.81 L928.99 275.22 L927.38 273.67 L925.7 272.17 L923.96 270.72 L922.17 269.33 L920.32 267.99 L918.43 266.72 L916.48 265.5 L914.49 264.34 L912.45 263.24 L910.37 262.2 L908.25 261.23 L906.1 260.33 L903.91 259.49 L901.69 258.72 L899.44 258.02 L897.16 257.39 L894.86 256.83 L892.55 256.33 L890.21 255.91 L887.85 255.57 L885.49 255.29 L883.12 255.09 L880.74 254.96 L878.35 254.9 L875.97 254.92 L873.58 255.01 L871.2 255.17 L868.83 255.41 L866.47 255.72 L864.13 256.1 L861.8 256.55 L859.49 257.07 L857.2 257.67 L854.94 258.33 L852.7 259.06 L850.49 259.86 L848.32 260.73 L846.18 261.67 L844.08 262.67 L842.02 263.73 L840 264.86 L838.03 266.04 L836.11 267.29 L834.23 268.59 L832.41 269.96 L832.41 285.46 L834.23 284.09 L836.11 282.79 L838.03 281.54 L840 280.36 L842.02 279.23 L844.08 278.17 L846.18 277.17 L848.32 276.23 L850.49 275.36 L852.7 274.56 L854.94 273.83 L857.2 273.17 L859.49 272.57 L861.8 272.05 L864.13 271.6 L866.47 271.22 L868.83 270.91 L871.2 270.67 L873.58 270.51 L875.97 270.42 L878.35 270.4 L880.74 270.46 L883.12 270.59 L885.49 270.79 L887.85 271.07 L890.21 271.41 L892.55 271.83 L894.86 272.33 L897.16 272.89 L899.44 273.52 L901.69 274.22 L903.91 274.99 L906.1 275.83 L908.25 276.73 L910.37 277.7 L912.45 278.74 L914.49 279.84 L916.48 281 L918.43 282.22 L920.32 283.49 L922.17 284.83 L923.96 286.22 L925.7 287.67 L927.38 289.17 L928.99 290.72 L930.55 292.31 L932.04 293.96 L933.47 295.65 L934.83 297.38 L936.13 299.15 L937.35 300.97 L938.5 302.81 L939.57 304.7 L940.58 306.61 L941.5 308.55 L942.35 310.53 L943.13 312.52 L943.82 314.54 L944.43 316.58 L944.97 318.63 L945.42 320.71 L945.79 322.79 L946.08 324.88 L946.28 326.98 L946.41 329.09 L946.45 331.2 Z" fill="rgb(158,175,193)" fill-opacity="0.5"/>
<path d="M832.41 269.96 L830.68 271.35 L828.99 272.79 L827.37 274.28 L825.8 275.82 L824.3 277.41 L822.85 279.04 L821.47 280.71 L820.16 282.43 L818.91 284.18 L817.73 285.97 L816.62 287.79 L815.58 289.65 L814.61 291.53 L813.72 293.45 L812.9 295.39 L812.16 297.35 L811.49 299.33 L810.9 301.34 L810.38 303.36 L809.94 305.39 L809.59 307.44 L809.31 309.5 L809.11 311.56 L808.99 313.63 L808.95 315.7 L808.95 331.2 L808.99 329.13 L809.11 327.06 L809.31 325 L809.59 322.94 L809.94 320.89 L810.38 318.86 L810.9 316.84 L811.49 314.83 L812.16 312.85 L812.9 310.89 L813.72 308.95 L814.61 307.03 L815.58 305.15 L816.62 303.29 L817.73 301.47 L818.91 299.68 L820.16 297.93 L821.47 296.21 L822.85 294.54 L824.3 292.91 L825.8 291.32 L827.37 289.78 L828.99 288.29 L830.68 286.85 L832.41 285.46 Z" fill="rgb(198,151,153)" fill-opacity="0.5"/>
<path d="M808.95 315.7 L808.99 317.76 L809.11 319.82 L809.31 321.88 L809.58 323.93 L809.94 325.97 L810.37 328 L810.88 330.01 L811.47 332.01 L812.13 333.98 L812.87 335.94 L813.69 337.87 L814.57 339.78 L815.53 341.66 L816.57 343.51 L817.67 345.33 L818.84 347.12 L820.08 348.86 L821.38 350.57 L822.75 352.24 L822.75 367.74 L821.38 366.07 L820.08 364.36 L818.84 362.62 L817.67 360.83 L816.57 359.01 L815.53 357.16 L814.57 355.28 L813.69 353.37 L812.87 351.44 L812.13 349.48 L811.47 347.51 L810.88 345.51 L810.37 343.5 L809.94 341.47 L809.58 339.43 L809.31 337.38 L809.11 335.32 L808.99 333.26 L808.95 331.2 Z" fill="rgb(198,151,153)" fill-opacity="0.5"/>
<path d="M822.75 352.24 L824.22 353.91 L825.75 355.52 L827.34 357.09 L829 358.61 L830.71 360.08 L832.48 361.49 L834.3 362.85 L836.17 364.16 L838.1 365.4 L840.07 366.58 L842.09 367.71 L844.15 368.77 L846.25 369.76 L848.39 370.7 L850.56 371.56 L852.77 372.36 L855 373.09 L857.27 373.75 L859.55 374.34 L861.86 374.87 L864.19 375.32 L866.54 375.69 L868.9 376 L871.27 376.23 L873.64 376.39 L876.03 376.48 L878.41 376.5 L880.79 376.44 L883.17 376.31 L885.54 376.1 L887.91 375.83 L890.26 375.48 L892.59 375.06 L894.91 374.56 L897.21 374 L899.48 373.37 L901.73 372.66 L903.95 371.89 L906.14 371.05 L908.29 370.15 L910.41 369.18 L912.48 368.14 L914.52 367.05 L916.51 365.89 L918.45 364.67 L920.35 363.39 L922.19 362.05 L923.98 360.66 L925.72 359.21 L927.39 357.71 L929.01 356.17 L930.57 354.57 L932.06 352.92 L933.49 351.23 L934.85 349.5 L936.14 347.73 L937.36 345.92 L938.51 344.07 L939.58 342.19 L940.58 340.28 L941.51 338.33 L942.36 336.36 L943.13 334.37 L943.82 332.35 L944.43 330.31 L944.97 328.26 L945.42 326.19 L945.79 324.11 L946.08 322.01 L946.28 319.91 L946.41 317.81 L946.45 315.7 L946.45 331.2 L946.41 333.31 L946.28 335.41 L946.08 337.51 L945.79 339.61 L945.42 341.69 L944.97 343.76 L944.43 345.81 L943.82 347.85 L943.13 349.87 L942.36 351.86 L941.51 353.83 L940.58 355.78 L939.58 357.69 L938.51 359.57 L937.36 361.42 L936.14 363.23 L934.85 365 L933.49 366.73 L932.06 368.42 L930.57 370.07 L929.01 371.67 L927.39 373.21 L925.72 374.71 L923.98 376.16 L922.19 377.55 L920.35 378.89 L918.45 380.17 L916.51 381.39 L914.52 382.55 L912.48 383.64 L910.41 384.68 L908.29 385.65 L906.14 386.55 L903.95 387.39 L901.73 388.16 L899.48 388.87 L897.21 389.5 L894.91 390.06 L892.59 390.56 L890.26 390.98 L887.91 391.33 L885.54 391.6 L883.17 391.81 L880.79 391.94 L878.41 392 L876.03 391.98 L873.64 391.89 L871.27 391.73 L868.9 391.5 L866.54 391.19 L864.19 390.82 L861.86 390.37 L859.55 389.84 L857.27 389.25 L855 388.59 L852.77 387.86 L850.56 387.06 L848.39 386.2 L846.25 385.26 L844.15 384.27 L842.09 383.21 L840.07 382.08 L838.1 380.9 L836.17 379.66 L834.3 378.35 L832.48 376.99 L830.71 375.58 L829 374.11 L827.34 372.59 L825.75 371.02 L824.22 369.41 L822.75 367.74 Z" fill="rgb(146,195,147)" fill-opacity="0.5"/>
<path d="M877.7 315.7 L946.45 315.7 L946.41 313.59 L946.28 311.48 L946.08 309.38 L945.79 307.29 L945.42 305.21 L944.97 303.13 L944.43 301.08 L943.82 299.04 L943.13 297.02 L942.35 295.03 L941.5 293.05 L940.58 291.11 L939.57 289.2 L938.5 287.31 L937.35 285.47 L936.13 283.65 L934.83 281.88 L933.47 280.15 L932.04 278.46 L930.55 276.81 L928.99 275.22 L927.38 273.67 L925.7 272.17 L923.96 270.72 L922.17 269.33 L920.32 267.99 L918.43 266.72 L916.48 265.5 L914.49 264.34 L912.45 263.24 L910.37 262.2 L908.25 261.23 L906.1 260.33 L903.91 259.49 L901.69 258.72 L899.44 258.02 L897.16 257.39 L894.86 256.83 L892.55 256.33 L890.21 255.91 L887.85 255.57 L885.49 255.29 L883.12 255.09 L880.74 254.96 L878.35 254.9 L875.97 254.92 L873.58 255.01 L871.2 255.17 L868.83 255.41 L866.47 255.72 L864.13 256.1 L861.8 256.55 L859.49 257.07 L857.2 257.67 L854.94 258.33 L852.7 259.06 L850.49 259.86 L848.32 260.73 L846.18 261.67 L844.08 262.67 L842.02 263.73 L840 264.86 L838.03 266.04 L836.11 267.29 L834.23 268.59 L832.41 269.96 Z" fill="rgb(158,175,193)" fill-opacity="0.5" stroke="#fff" stroke-opacity="0.4" stroke-width="0.6"/>
<path d="M877.7 315.7 L832.41 269.96 L830.64 271.38 L828.92 272.85 L827.27 274.38 L825.67 275.96 L824.14 277.58 L822.67 279.25 L821.27 280.97 L819.94 282.73 L818.68 284.52 L817.49 286.36 L816.37 288.23 L815.32 290.13 L814.36 292.07 L813.46 294.03 L812.65 296.02 L811.92 298.03 L811.26 300.07 L810.69 302.12 L810.19 304.19 L809.78 306.28 L809.45 308.37 L809.2 310.48 L809.04 312.59 L808.96 314.7 L808.96 316.82 L809.05 318.93 L809.22 321.04 L809.47 323.15 L809.8 325.24 L810.22 327.33 L810.72 329.4 L811.3 331.45 L811.96 333.48 L812.7 335.49 L813.51 337.48 L814.41 339.44 L815.38 341.38 L816.43 343.28 L817.55 345.15 L818.75 346.98 L820.01 348.78 L821.35 350.53 L822.75 352.24 Z" fill="rgb(198,151,153)" fill-opacity="0.5" stroke="#fff" stroke-opacity="0.4" stroke-width="0.6"/>
<path d="M877.7 315.7 L822.75 352.24 L824.22 353.91 L825.75 355.52 L827.34 357.09 L829 358.61 L830.71 360.08 L832.48 361.49 L834.3 362.85 L836.17 364.16 L838.1 365.4 L840.07 366.58 L842.09 367.71 L844.15 368.77 L846.25 369.76 L848.39 370.7 L850.56 371.56 L852.77 372.36 L855 373.09 L857.27 373.75 L859.55 374.34 L861.86 374.87 L864.19 375.32 L866.54 375.69 L868.9 376 L871.27 376.23 L873.64 376.39 L876.03 376.48 L878.41 376.5 L880.79 376.44 L883.17 376.31 L885.54 376.1 L887.91 375.83 L890.26 375.48 L892.59 375.06 L894.91 374.56 L897.21 374 L899.48 373.37 L901.73 372.66 L903.95 371.89 L906.14 371.05 L908.29 370.15 L910.41 369.18 L912.48 368.14 L914.52 367.05 L916.51 365.89 L918.45 364.67 L920.35 363.39 L922.19 362.05 L923.98 360.66 L925.72 359.21 L927.39 357.71 L929.01 356.17 L930.57 354.57 L932.06 352.92 L933.49 351.23 L934.85 349.5 L936.14 347.73 L937.36 345.92 L938.51 344.07 L939.58 342.19 L940.58 340.28 L941.51 338.33 L942.36 336.36 L943.13 334.37 L943.82 332.35 L944.43 330.31 L944.97 328.26 L945.42 326.19 L945.79 324.11 L946.08 322.01 L946.28 319.91 L946.41 317.81 L946.45 315.7 Z" fill="rgb(146,195,147)" fill-opacity="0.5" stroke="#fff" stroke-opacity="0.4" stroke-width="0.6"/>
<path d="M954.3 258.65 C948.95 258.6 907.13 258.6 903.26 265.87" fill="none" stroke="#333" stroke-width="0.7"/>
<rect x="956" y="247" width="34" height="26.7" fill="rgb(140,140,140)" fill-opacity="0.7"/>
<rect x="954.3" y="245.3" width="34" height="26.7" fill="rgb(255,255,192)" stroke="#000" stroke-width="0.5"/>
<text x="971.2" y="256" text-anchor="middle" class="lb">20219</text>
<text x="971.2" y="268.3" text-anchor="middle" class="lb">36.4%</text>
<path d="M798.3 309.05 C806.45 309.23 806.83 309.23 816.16 310.05" fill="none" stroke="#333" stroke-width="0.7"/>
<rect x="766.2" y="297.6" width="33.8" height="26.3" fill="rgb(140,140,140)" fill-opacity="0.7"/>
<rect x="764.5" y="295.9" width="33.8" height="26.3" fill="rgb(255,255,192)" stroke="#000" stroke-width="0.5"/>
<text x="781.3" y="306.6" text-anchor="middle" class="lb">13213</text>
<text x="781.3" y="318.9" text-anchor="middle" class="lb">23.8%</text>
<path d="M954.4 374.85 C948.95 375.17 900.28 375.17 897.31 367.6" fill="none" stroke="#333" stroke-width="0.7"/>
<rect x="956.1" y="363.2" width="33.7" height="26.7" fill="rgb(140,140,140)" fill-opacity="0.7"/>
<rect x="954.4" y="361.5" width="33.7" height="26.7" fill="rgb(255,255,192)" stroke="#000" stroke-width="0.5"/>
<text x="971.15" y="372.2" text-anchor="middle" class="lb">22045</text>
<text x="971.15" y="384.5" text-anchor="middle" class="lb">39.7%</text>
<text x="83.1" y="35.8" class="tt" textLength="115.1" lengthAdjust="spacingAndGlyphs">Functions 70.8%</text>
<text x="472.5" y="35.7" class="tt" textLength="74.3" lengthAdjust="spacingAndGlyphs">Calls 7.7%</text>
<text x="825.7" y="35.6" class="tt" textLength="99.1" lengthAdjust="spacingAndGlyphs">Similarity 0.48</text>
<text x="71.1" y="233.9" class="tt" textLength="139.5" lengthAdjust="spacingAndGlyphs">Basic Blocks 53.5%</text>
<text x="462.7" y="233.6" class="tt" textLength="94.1" lengthAdjust="spacingAndGlyphs">Jumps 37.7%</text>
<text x="814.7" y="233.8" class="tt" textLength="124.9" lengthAdjust="spacingAndGlyphs">Instructions 39.7%</text>
<path d="M766 49.3 L1045 49.3 L1045 167.5 L766 167.5 Z" fill="#f4f4f4"/>
<path d="M754 57.3 L766 49.3 L766 167.5 L754 175.5 Z" fill="#dedede"/>
<path d="M754 175.5 L766 167.5 L1045 167.5 L1033 175.5 Z" fill="#dcdcdc"/>
<path d="M754 175.6 L766 167.6 L1045 167.6" fill="none" stroke="#b0b0b0" stroke-width="0.8" stroke-dasharray="2.2 1.8" stroke-dashoffset="1"/>
<path d="M754 157.01 L766 149.01 L1045 149.01" fill="none" stroke="#b0b0b0" stroke-width="0.8" stroke-dasharray="2.2 1.8" stroke-dashoffset="1"/>
<path d="M754 138.43 L766 130.43 L1045 130.43" fill="none" stroke="#b0b0b0" stroke-width="0.8" stroke-dasharray="2.2 1.8" stroke-dashoffset="1"/>
<path d="M754 119.84 L766 111.84 L1045 111.84" fill="none" stroke="#b0b0b0" stroke-width="0.8" stroke-dasharray="2.2 1.8" stroke-dashoffset="1"/>
<path d="M754 101.26 L766 93.26 L1045 93.26" fill="none" stroke="#b0b0b0" stroke-width="0.8" stroke-dasharray="2.2 1.8" stroke-dashoffset="1"/>
<path d="M754 82.67 L766 74.67 L1045 74.67" fill="none" stroke="#b0b0b0" stroke-width="0.8" stroke-dasharray="2.2 1.8" stroke-dashoffset="1"/>
<path d="M754 64.09 L766 56.09 L1045 56.09" fill="none" stroke="#b0b0b0" stroke-width="0.8" stroke-dasharray="2.2 1.8" stroke-dashoffset="1"/>
<path d="M754 175.5 L766 167.5" fill="none" stroke="#c0c0c0" stroke-width="0.6"/>
<path d="M766 49.3 L766 167.5" fill="none" stroke="#c0c0c0" stroke-width="0.6"/>
<path d="M754 175.5 L754 57.3 L766 49.3 L1045 49.3 L1045 167.5 L1033 175.5 Z" fill="none" stroke="#999" stroke-width="0.8"/>
<path d="M768.1 175.5 L768.1 163.15 L785.8 163.15 L785.8 175.5 Z" fill="rgb(245,83,29)" fill-opacity="0.75"/>
<path d="M785.8 175.5 L785.8 163.15 L797.8 155.15 L797.8 167.5 Z" fill="rgb(171,58,20)" fill-opacity="0.75"/>
<path d="M768.1 163.15 L780.1 155.15 L797.8 155.15 L785.8 163.15 Z" fill="rgb(171,58,20)" fill-opacity="0.75"/>
<path d="M791.4 175.5 L791.4 165.56 L809.1 165.56 L809.1 175.5 Z" fill="rgb(247,101,23)" fill-opacity="0.75"/>
<path d="M809.1 175.5 L809.1 165.56 L821.1 157.56 L821.1 167.5 Z" fill="rgb(173,70,16)" fill-opacity="0.75"/>
<path d="M791.4 165.56 L803.4 157.56 L821.1 157.56 L809.1 165.56 Z" fill="rgb(173,70,16)" fill-opacity="0.75"/>
<path d="M814.7 175.5 L814.7 168.91 L832.4 168.91 L832.4 175.5 Z" fill="rgb(245,118,19)" fill-opacity="0.75"/>
<path d="M832.4 175.5 L832.4 168.91 L844.4 160.91 L844.4 167.5 Z" fill="rgb(171,83,14)" fill-opacity="0.75"/>
<path d="M814.7 168.91 L826.7 160.91 L844.4 160.91 L832.4 168.91 Z" fill="rgb(171,83,14)" fill-opacity="0.75"/>
<path d="M838 175.5 L838 170.02 L855.7 170.02 L855.7 175.5 Z" fill="rgb(243,131,14)" fill-opacity="0.75"/>
<path d="M855.7 175.5 L855.7 170.02 L867.7 162.02 L867.7 167.5 Z" fill="rgb(170,92,10)" fill-opacity="0.75"/>
<path d="M838 170.02 L850 162.02 L867.7 162.02 L855.7 170.02 Z" fill="rgb(170,92,10)" fill-opacity="0.75"/>
<path d="M861.3 175.5 L861.3 171.51 L879 171.51 L879 175.5 Z" fill="rgb(235,151,7)" fill-opacity="0.75"/>
<path d="M879 175.5 L879 171.51 L891 163.51 L891 167.5 Z" fill="rgb(165,106,5)" fill-opacity="0.75"/>
<path d="M861.3 171.51 L873.3 163.51 L891 163.51 L879 171.51 Z" fill="rgb(165,106,5)" fill-opacity="0.75"/>
<path d="M884.6 175.5 L884.6 173.37 L902.3 173.37 L902.3 175.5 Z" fill="rgb(205,146,0)" fill-opacity="0.75"/>
<path d="M902.3 175.5 L902.3 173.37 L914.3 165.37 L914.3 167.5 Z" fill="rgb(143,102,0)" fill-opacity="0.75"/>
<path d="M884.6 173.37 L896.6 165.37 L914.3 165.37 L902.3 173.37 Z" fill="rgb(143,102,0)" fill-opacity="0.75"/>
<path d="M907.9 175.5 L907.9 155.9 L925.6 155.9 L925.6 175.5 Z" fill="rgb(213,178,0)" fill-opacity="0.75"/>
<path d="M925.6 175.5 L925.6 155.9 L937.6 147.9 L937.6 167.5 Z" fill="rgb(149,125,0)" fill-opacity="0.75"/>
<path d="M907.9 155.9 L919.9 147.9 L937.6 147.9 L925.6 155.9 Z" fill="rgb(149,125,0)" fill-opacity="0.75"/>
<path d="M931.2 175.5 L931.2 163.33 L948.9 163.33 L948.9 175.5 Z" fill="rgb(202,199,0)" fill-opacity="0.75"/>
<path d="M948.9 175.5 L948.9 163.33 L960.9 155.33 L960.9 167.5 Z" fill="rgb(141,140,0)" fill-opacity="0.75"/>
<path d="M931.2 163.33 L943.2 155.33 L960.9 155.33 L948.9 163.33 Z" fill="rgb(141,140,0)" fill-opacity="0.75"/>
<path d="M954.5 175.5 L954.5 160.73 L972.2 160.73 L972.2 175.5 Z" fill="rgb(183,215,0)" fill-opacity="0.75"/>
<path d="M972.2 175.5 L972.2 160.73 L984.2 152.73 L984.2 167.5 Z" fill="rgb(128,151,0)" fill-opacity="0.75"/>
<path d="M954.5 160.73 L966.5 152.73 L984.2 152.73 L972.2 160.73 Z" fill="rgb(128,151,0)" fill-opacity="0.75"/>
<path d="M977.8 175.5 L977.8 139.55 L995.5 139.55 L995.5 175.5 Z" fill="rgb(165,234,0)" fill-opacity="0.75"/>
<path d="M995.5 175.5 L995.5 139.55 L1007.5 131.55 L1007.5 167.5 Z" fill="rgb(115,164,0)" fill-opacity="0.75"/>
<path d="M977.8 139.55 L989.8 131.55 L1007.5 131.55 L995.5 139.55 Z" fill="rgb(115,164,0)" fill-opacity="0.75"/>
<path d="M1001.1 175.5 L1001.1 62.97 L1018.8 62.97 L1018.8 175.5 Z" fill="rgb(130,246,5)" fill-opacity="0.75"/>
<path d="M1018.8 175.5 L1018.8 62.97 L1030.8 54.97 L1030.8 167.5 Z" fill="rgb(91,172,3)" fill-opacity="0.75"/>
<path d="M1001.1 62.97 L1013.1 54.97 L1030.8 54.97 L1018.8 62.97 Z" fill="rgb(91,172,3)" fill-opacity="0.75"/>
<path d="M750.5 57.3 L750.5 176" stroke="#aaa" stroke-width="1" fill="none"/>
<path d="M748 175.6 L750.5 175.6" stroke="#aaa" stroke-width="1"/>
<text x="743.2" y="180.6" text-anchor="end" class="ax">0</text>
<path d="M748 157.01 L750.5 157.01" stroke="#aaa" stroke-width="1"/>
<text x="743.2" y="162.01" text-anchor="end" class="ax">50</text>
<path d="M748 138.43 L750.5 138.43" stroke="#aaa" stroke-width="1"/>
<text x="743.2" y="143.43" text-anchor="end" class="ax">100</text>
<path d="M748 119.84 L750.5 119.84" stroke="#aaa" stroke-width="1"/>
<text x="743.2" y="124.84" text-anchor="end" class="ax">150</text>
<path d="M748 101.26 L750.5 101.26" stroke="#aaa" stroke-width="1"/>
<text x="743.2" y="106.26" text-anchor="end" class="ax">200</text>
<path d="M748 82.67 L750.5 82.67" stroke="#aaa" stroke-width="1"/>
<text x="743.2" y="87.67" text-anchor="end" class="ax">250</text>
<path d="M748 64.09 L750.5 64.09" stroke="#aaa" stroke-width="1"/>
<text x="743.2" y="69.09" text-anchor="end" class="ax">300</text>
<text transform="translate(716.3 111.8) rotate(-90)" text-anchor="middle" class="ax" style="fill:#3a3a3a">Matched Functions</text>
<path d="M754 180.2 L1033 180.2" stroke="#bbb" stroke-width="1" fill="none"/>
<path d="M777 180.2 L777 182.7" stroke="#aaa" stroke-width="1"/>
<text transform="translate(778.2 197.9) rotate(-57)" text-anchor="middle" class="ax" style="font-size:13.5px" dy="4.7">0.0</text>
<path d="M800.3 180.2 L800.3 182.7" stroke="#aaa" stroke-width="1"/>
<text transform="translate(801.5 197.9) rotate(-57)" text-anchor="middle" class="ax" style="font-size:13.5px" dy="4.7">0.1</text>
<path d="M823.6 180.2 L823.6 182.7" stroke="#aaa" stroke-width="1"/>
<text transform="translate(824.8 197.9) rotate(-57)" text-anchor="middle" class="ax" style="font-size:13.5px" dy="4.7">0.2</text>
<path d="M846.9 180.2 L846.9 182.7" stroke="#aaa" stroke-width="1"/>
<text transform="translate(848.1 197.9) rotate(-57)" text-anchor="middle" class="ax" style="font-size:13.5px" dy="4.7">0.3</text>
<path d="M870.2 180.2 L870.2 182.7" stroke="#aaa" stroke-width="1"/>
<text transform="translate(871.4 197.9) rotate(-57)" text-anchor="middle" class="ax" style="font-size:13.5px" dy="4.7">0.4</text>
<path d="M893.5 180.2 L893.5 182.7" stroke="#aaa" stroke-width="1"/>
<text transform="translate(894.7 197.9) rotate(-57)" text-anchor="middle" class="ax" style="font-size:13.5px" dy="4.7">0.5</text>
<path d="M916.8 180.2 L916.8 182.7" stroke="#aaa" stroke-width="1"/>
<text transform="translate(918 197.9) rotate(-57)" text-anchor="middle" class="ax" style="font-size:13.5px" dy="4.7">0.6</text>
<path d="M940.1 180.2 L940.1 182.7" stroke="#aaa" stroke-width="1"/>
<text transform="translate(941.3 197.9) rotate(-57)" text-anchor="middle" class="ax" style="font-size:13.5px" dy="4.7">0.7</text>
<path d="M963.4 180.2 L963.4 182.7" stroke="#aaa" stroke-width="1"/>
<text transform="translate(964.6 197.9) rotate(-57)" text-anchor="middle" class="ax" style="font-size:13.5px" dy="4.7">0.8</text>
<path d="M986.7 180.2 L986.7 182.7" stroke="#aaa" stroke-width="1"/>
<text transform="translate(987.9 197.9) rotate(-57)" text-anchor="middle" class="ax" style="font-size:13.5px" dy="4.7">0.9</text>
<path d="M1010 180.2 L1010 182.7" stroke="#aaa" stroke-width="1"/>
<text transform="translate(1011.2 197.9) rotate(-57)" text-anchor="middle" class="ax" style="font-size:13.5px" dy="4.7">1.0</text>
</svg></body></html>
